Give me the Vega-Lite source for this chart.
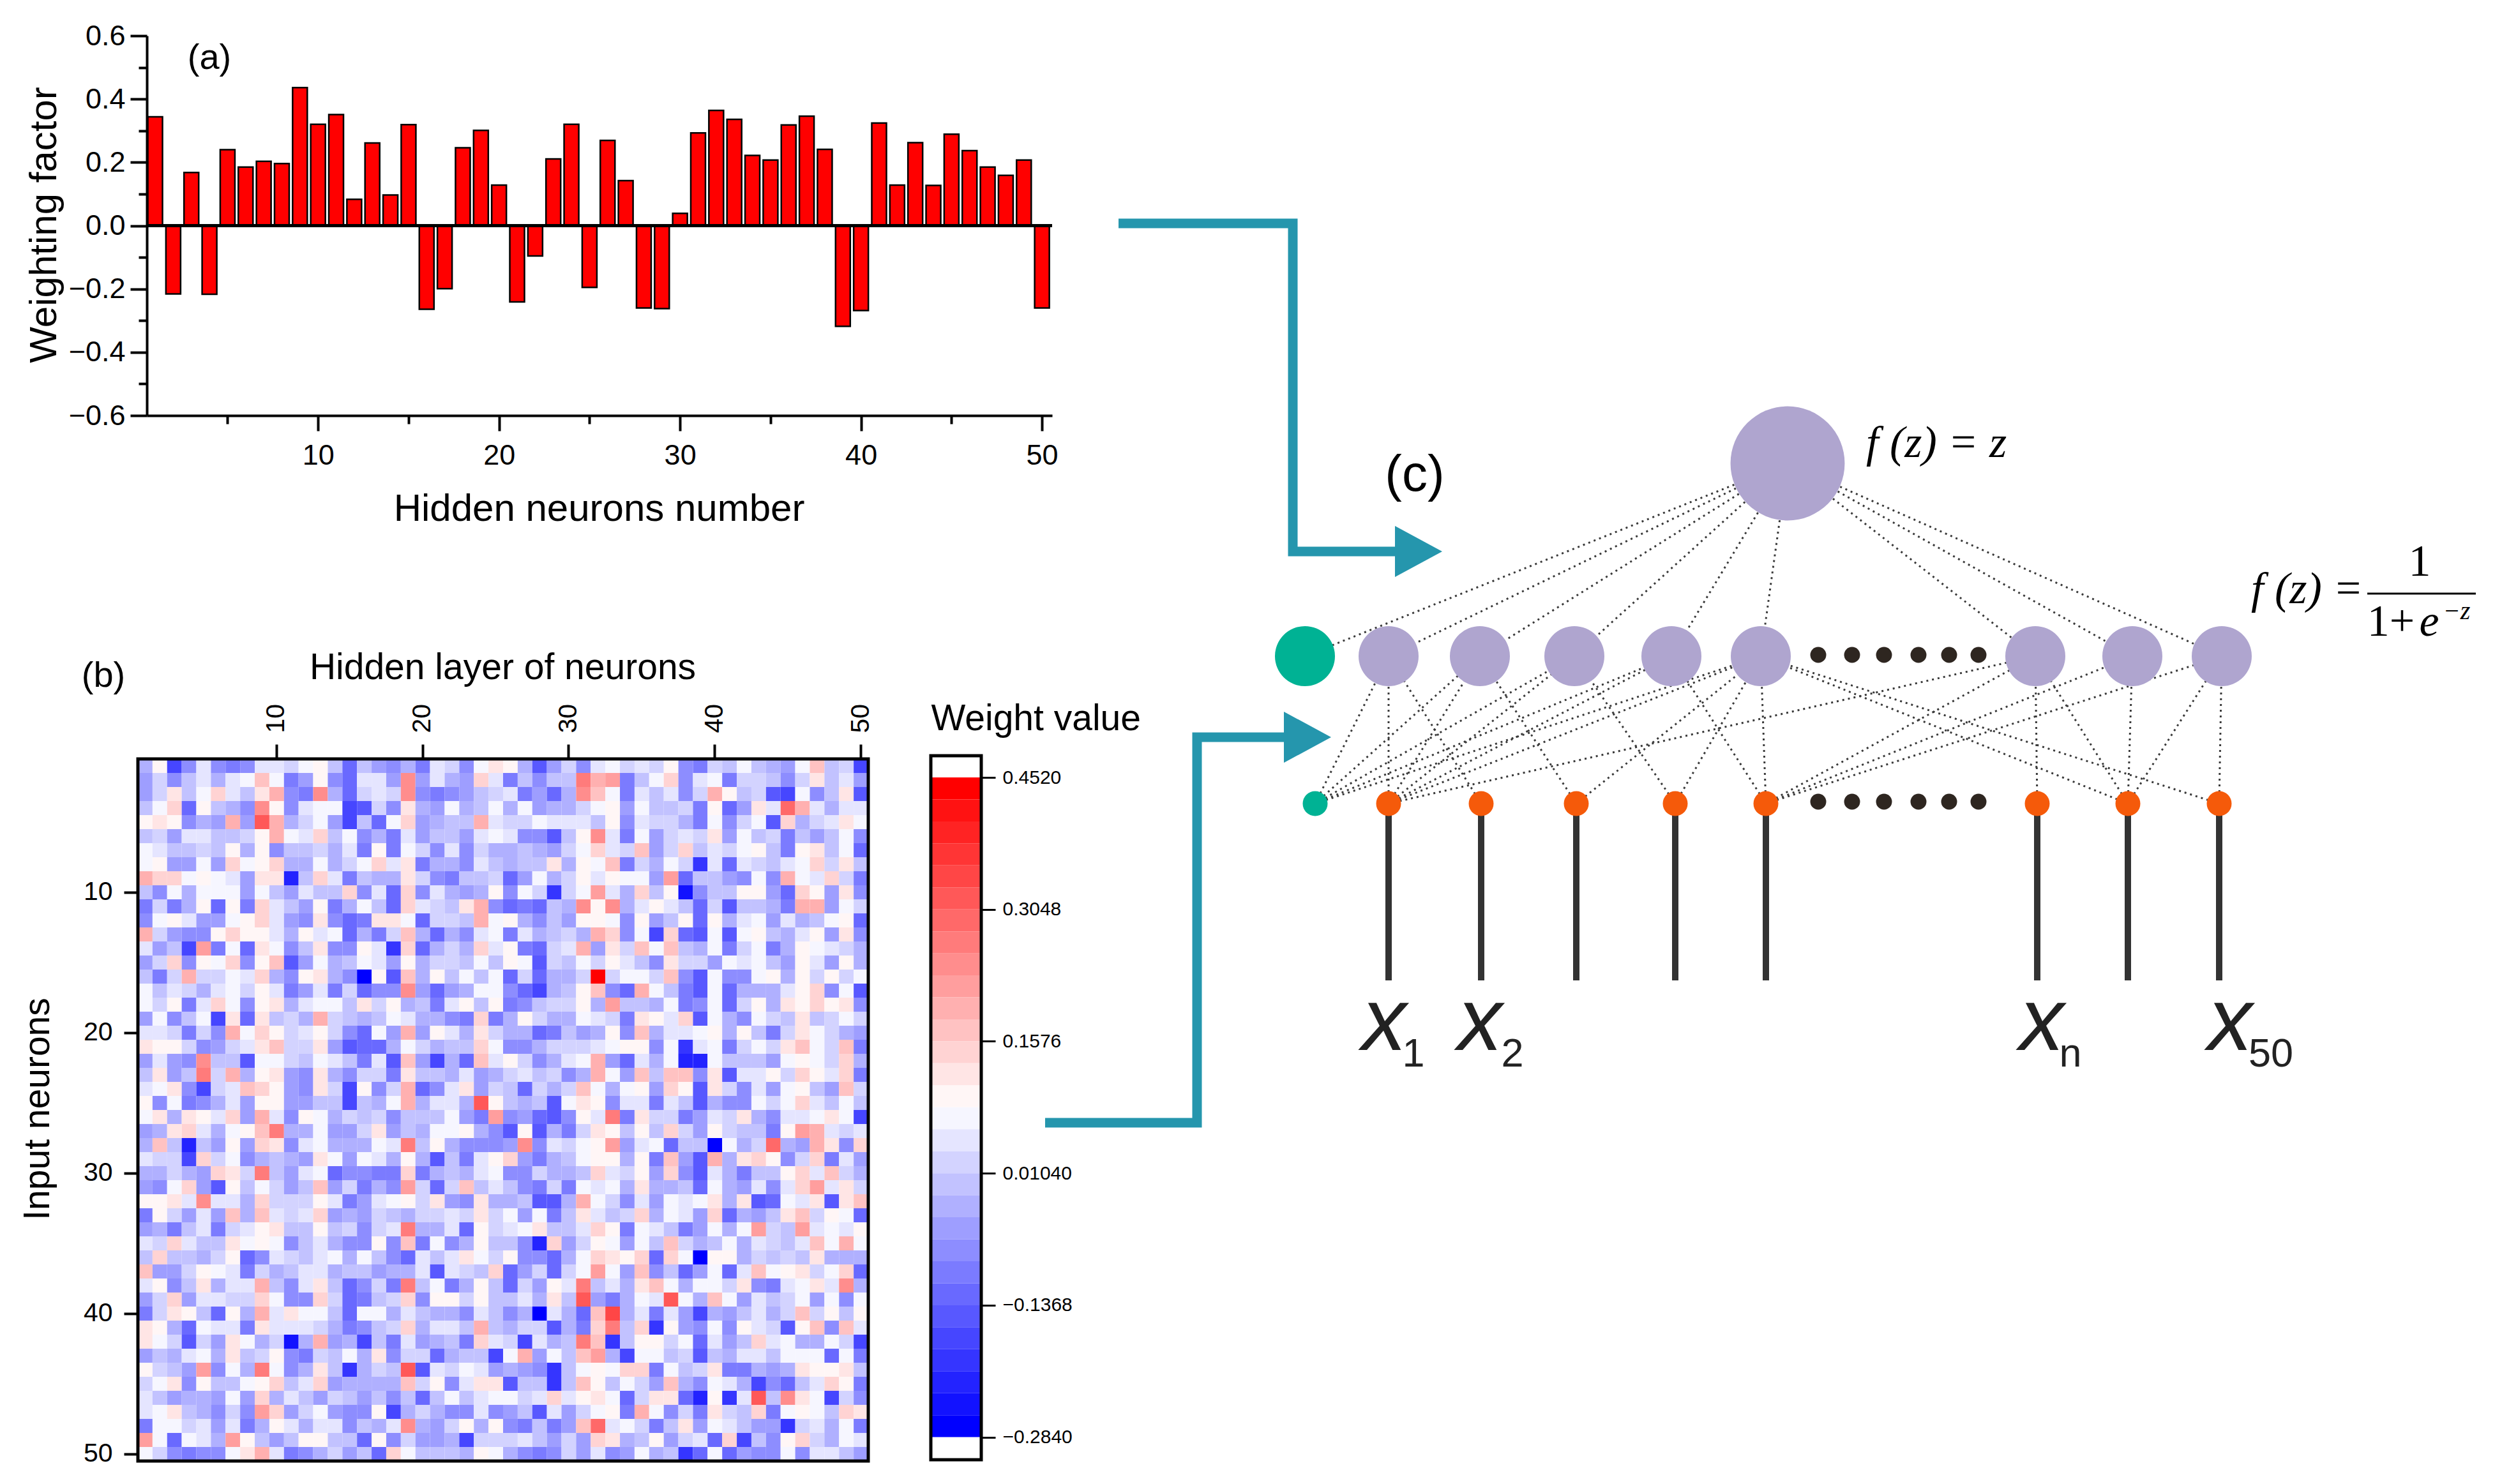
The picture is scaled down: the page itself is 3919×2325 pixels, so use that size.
{"$schema":"https://vega.github.io/schema/vega-lite/v6.json","width":3919,"height":2325,"padding":0,"autosize":{"type":"none"},"background":"white",
"config":{"view":{"stroke":null},"font":"Liberation Sans","axis":{"grid":false,"labelFont":"Liberation Sans","titleFont":"Liberation Sans","titleFontWeight":"normal","labelColor":"#000","titleColor":"#000","tickColor":"#000","domainColor":"#000"}},
"datasets":{
"bars":[{"n":1,"w":0.344},{"n":2,"w":-0.216},{"n":3,"w":0.168},{"n":4,"w":-0.217},{"n":5,"w":0.24},{"n":6,"w":0.185},{"n":7,"w":0.203},{"n":8,"w":0.196},{"n":9,"w":0.436},{"n":10,"w":0.32},{"n":11,"w":0.351},{"n":12,"w":0.083},{"n":13,"w":0.261},{"n":14,"w":0.097},{"n":15,"w":0.319},{"n":16,"w":-0.264},{"n":17,"w":-0.199},{"n":18,"w":0.246},{"n":19,"w":0.301},{"n":20,"w":0.128},{"n":21,"w":-0.241},{"n":22,"w":-0.096},{"n":23,"w":0.211},{"n":24,"w":0.32},{"n":25,"w":-0.195},{"n":26,"w":0.269},{"n":27,"w":0.142},{"n":28,"w":-0.26},{"n":29,"w":-0.262},{"n":30,"w":0.039},{"n":31,"w":0.293},{"n":32,"w":0.364},{"n":33,"w":0.336},{"n":34,"w":0.222},{"n":35,"w":0.207},{"n":36,"w":0.318},{"n":37,"w":0.346},{"n":38,"w":0.241},{"n":39,"w":-0.318},{"n":40,"w":-0.268},{"n":41,"w":0.324},{"n":42,"w":0.128},{"n":43,"w":0.262},{"n":44,"w":0.127},{"n":45,"w":0.289},{"n":46,"w":0.237},{"n":47,"w":0.185},{"n":48,"w":0.159},{"n":49,"w":0.207},{"n":50,"w":-0.26}],
"heat":[
{"r":1,"c":1,"w":-0.03},{"r":1,"c":2,"w":0.1},{"r":1,"c":3,"w":-0.17},{"r":1,"c":4,"w":-0.08},{"r":1,"c":5,"w":0.05},{"r":1,"c":6,"w":-0.08},{"r":1,"c":7,"w":-0.1},{"r":1,"c":8,"w":-0.08},{"r":1,"c":9,"w":0.05},{"r":1,"c":10,"w":0.05},{"r":1,"c":11,"w":0.02},{"r":1,"c":12,"w":0.07},{"r":1,"c":13,"w":0.1},{"r":1,"c":14,"w":0},{"r":1,"c":15,"w":-0.12},{"r":1,"c":16,"w":0},{"r":1,"c":17,"w":-0.05},{"r":1,"c":18,"w":-0.08},{"r":1,"c":19,"w":-0.03},{"r":1,"c":20,"w":-0.1},{"r":1,"c":21,"w":0.05},{"r":1,"c":22,"w":0.02},{"r":1,"c":23,"w":-0.08},{"r":1,"c":24,"w":0.07},{"r":1,"c":25,"w":0.12},{"r":1,"c":26,"w":0.1},{"r":1,"c":27,"w":-0.03},{"r":1,"c":28,"w":-0.15},{"r":1,"c":29,"w":-0.05},{"r":1,"c":30,"w":0.02},{"r":1,"c":31,"w":-0.08},{"r":1,"c":32,"w":0.05},{"r":1,"c":33,"w":0.07},{"r":1,"c":34,"w":0.02},{"r":1,"c":35,"w":0.05},{"r":1,"c":36,"w":0.02},{"r":1,"c":37,"w":0.1},{"r":1,"c":38,"w":-0.08},{"r":1,"c":39,"w":-0.1},{"r":1,"c":40,"w":0.02},{"r":1,"c":41,"w":0},{"r":1,"c":42,"w":0.07},{"r":1,"c":43,"w":0},{"r":1,"c":44,"w":-0.03},{"r":1,"c":45,"w":-0.05},{"r":1,"c":46,"w":0.07},{"r":1,"c":47,"w":0.17},{"r":1,"c":48,"w":0},{"r":1,"c":49,"w":0.02},{"r":1,"c":50,"w":-0.17},
{"r":2,"c":1,"w":-0.05},{"r":2,"c":2,"w":0.02},{"r":2,"c":3,"w":-0.08},{"r":2,"c":4,"w":0},{"r":2,"c":5,"w":0.05},{"r":2,"c":6,"w":-0.03},{"r":2,"c":7,"w":0.05},{"r":2,"c":8,"w":0.07},{"r":2,"c":9,"w":0.17},{"r":2,"c":10,"w":0.07},{"r":2,"c":11,"w":-0.1},{"r":2,"c":12,"w":-0.05},{"r":2,"c":13,"w":0.1},{"r":2,"c":14,"w":-0.08},{"r":2,"c":15,"w":-0.12},{"r":2,"c":16,"w":0.05},{"r":2,"c":17,"w":0.05},{"r":2,"c":18,"w":-0.05},{"r":2,"c":19,"w":0.24},{"r":2,"c":20,"w":-0.05},{"r":2,"c":21,"w":0.05},{"r":2,"c":22,"w":-0.03},{"r":2,"c":23,"w":-0.05},{"r":2,"c":24,"w":0.15},{"r":2,"c":25,"w":0.05},{"r":2,"c":26,"w":-0.1},{"r":2,"c":27,"w":0},{"r":2,"c":28,"w":-0.08},{"r":2,"c":29,"w":0},{"r":2,"c":30,"w":0},{"r":2,"c":31,"w":0.27},{"r":2,"c":32,"w":0.2},{"r":2,"c":33,"w":0.22},{"r":2,"c":34,"w":-0.1},{"r":2,"c":35,"w":0},{"r":2,"c":36,"w":0.07},{"r":2,"c":37,"w":0.15},{"r":2,"c":38,"w":-0.08},{"r":2,"c":39,"w":0.05},{"r":2,"c":40,"w":0.07},{"r":2,"c":41,"w":-0.1},{"r":2,"c":42,"w":0.02},{"r":2,"c":43,"w":0.02},{"r":2,"c":44,"w":0},{"r":2,"c":45,"w":-0.08},{"r":2,"c":46,"w":0.02},{"r":2,"c":47,"w":0.12},{"r":2,"c":48,"w":0},{"r":2,"c":49,"w":0.05},{"r":2,"c":50,"w":-0.05},
{"r":3,"c":1,"w":-0.05},{"r":3,"c":2,"w":0.02},{"r":3,"c":3,"w":0.12},{"r":3,"c":4,"w":0},{"r":3,"c":5,"w":0.07},{"r":3,"c":6,"w":0.15},{"r":3,"c":7,"w":0.05},{"r":3,"c":8,"w":0},{"r":3,"c":9,"w":0.12},{"r":3,"c":10,"w":0.2},{"r":3,"c":11,"w":-0.08},{"r":3,"c":12,"w":-0.1},{"r":3,"c":13,"w":0.24},{"r":3,"c":14,"w":-0.03},{"r":3,"c":15,"w":-0.12},{"r":3,"c":16,"w":0.02},{"r":3,"c":17,"w":0.05},{"r":3,"c":18,"w":0.02},{"r":3,"c":19,"w":0.24},{"r":3,"c":20,"w":-0.08},{"r":3,"c":21,"w":-0.1},{"r":3,"c":22,"w":-0.08},{"r":3,"c":23,"w":-0.05},{"r":3,"c":24,"w":0},{"r":3,"c":25,"w":0.02},{"r":3,"c":26,"w":0.05},{"r":3,"c":27,"w":-0.1},{"r":3,"c":28,"w":-0.05},{"r":3,"c":29,"w":-0.12},{"r":3,"c":30,"w":-0.03},{"r":3,"c":31,"w":0.24},{"r":3,"c":32,"w":0.17},{"r":3,"c":33,"w":0.07},{"r":3,"c":34,"w":-0.1},{"r":3,"c":35,"w":0.05},{"r":3,"c":36,"w":0},{"r":3,"c":37,"w":0.05},{"r":3,"c":38,"w":-0.08},{"r":3,"c":39,"w":0.02},{"r":3,"c":40,"w":0.2},{"r":3,"c":41,"w":0.1},{"r":3,"c":42,"w":0},{"r":3,"c":43,"w":0.02},{"r":3,"c":44,"w":-0.15},{"r":3,"c":45,"w":-0.17},{"r":3,"c":46,"w":0.07},{"r":3,"c":47,"w":-0.08},{"r":3,"c":48,"w":0},{"r":3,"c":49,"w":0.12},{"r":3,"c":50,"w":-0.15},
{"r":4,"c":1,"w":0},{"r":4,"c":2,"w":0.07},{"r":4,"c":3,"w":0.15},{"r":4,"c":4,"w":-0.12},{"r":4,"c":5,"w":0.1},{"r":4,"c":6,"w":0},{"r":4,"c":7,"w":-0.03},{"r":4,"c":8,"w":-0.08},{"r":4,"c":9,"w":0.24},{"r":4,"c":10,"w":0.1},{"r":4,"c":11,"w":-0.08},{"r":4,"c":12,"w":0.05},{"r":4,"c":13,"w":0.07},{"r":4,"c":14,"w":0.07},{"r":4,"c":15,"w":-0.17},{"r":4,"c":16,"w":-0.15},{"r":4,"c":17,"w":0.02},{"r":4,"c":18,"w":-0.08},{"r":4,"c":19,"w":0.12},{"r":4,"c":20,"w":-0.03},{"r":4,"c":21,"w":-0.05},{"r":4,"c":22,"w":0.07},{"r":4,"c":23,"w":-0.03},{"r":4,"c":24,"w":0},{"r":4,"c":25,"w":0.07},{"r":4,"c":26,"w":-0.03},{"r":4,"c":27,"w":0.07},{"r":4,"c":28,"w":-0.05},{"r":4,"c":29,"w":-0.03},{"r":4,"c":30,"w":-0.03},{"r":4,"c":31,"w":0.02},{"r":4,"c":32,"w":0.07},{"r":4,"c":33,"w":0.1},{"r":4,"c":34,"w":-0.05},{"r":4,"c":35,"w":0.07},{"r":4,"c":36,"w":0},{"r":4,"c":37,"w":0},{"r":4,"c":38,"w":0.02},{"r":4,"c":39,"w":-0.1},{"r":4,"c":40,"w":0.1},{"r":4,"c":41,"w":-0.12},{"r":4,"c":42,"w":-0.05},{"r":4,"c":43,"w":0.12},{"r":4,"c":44,"w":0.05},{"r":4,"c":45,"w":0.29},{"r":4,"c":46,"w":0.2},{"r":4,"c":47,"w":0.05},{"r":4,"c":48,"w":-0.03},{"r":4,"c":49,"w":0.05},{"r":4,"c":50,"w":0.05},
{"r":5,"c":1,"w":0.1},{"r":5,"c":2,"w":0.12},{"r":5,"c":3,"w":0.1},{"r":5,"c":4,"w":-0.08},{"r":5,"c":5,"w":-0.03},{"r":5,"c":6,"w":-0.05},{"r":5,"c":7,"w":0.2},{"r":5,"c":8,"w":-0.05},{"r":5,"c":9,"w":0.32},{"r":5,"c":10,"w":0.2},{"r":5,"c":11,"w":-0.03},{"r":5,"c":12,"w":0.02},{"r":5,"c":13,"w":0.07},{"r":5,"c":14,"w":-0.05},{"r":5,"c":15,"w":-0.17},{"r":5,"c":16,"w":0},{"r":5,"c":17,"w":-0.12},{"r":5,"c":18,"w":0.07},{"r":5,"c":19,"w":0.15},{"r":5,"c":20,"w":-0.05},{"r":5,"c":21,"w":-0.03},{"r":5,"c":22,"w":0},{"r":5,"c":23,"w":0},{"r":5,"c":24,"w":0.2},{"r":5,"c":25,"w":0.05},{"r":5,"c":26,"w":0.02},{"r":5,"c":27,"w":0.02},{"r":5,"c":28,"w":0.07},{"r":5,"c":29,"w":0.05},{"r":5,"c":30,"w":0.05},{"r":5,"c":31,"w":0.05},{"r":5,"c":32,"w":0},{"r":5,"c":33,"w":0.1},{"r":5,"c":34,"w":-0.08},{"r":5,"c":35,"w":0.05},{"r":5,"c":36,"w":0.02},{"r":5,"c":37,"w":0.02},{"r":5,"c":38,"w":-0.03},{"r":5,"c":39,"w":-0.1},{"r":5,"c":40,"w":0.07},{"r":5,"c":41,"w":-0.08},{"r":5,"c":42,"w":0.02},{"r":5,"c":43,"w":0.07},{"r":5,"c":44,"w":-0.15},{"r":5,"c":45,"w":0.15},{"r":5,"c":46,"w":-0.03},{"r":5,"c":47,"w":0.02},{"r":5,"c":48,"w":0.05},{"r":5,"c":49,"w":0.12},{"r":5,"c":50,"w":0.07},
{"r":6,"c":1,"w":0},{"r":6,"c":2,"w":0.02},{"r":6,"c":3,"w":-0.05},{"r":6,"c":4,"w":0.05},{"r":6,"c":5,"w":0.05},{"r":6,"c":6,"w":0},{"r":6,"c":7,"w":0},{"r":6,"c":8,"w":0.02},{"r":6,"c":9,"w":0.1},{"r":6,"c":10,"w":0.2},{"r":6,"c":11,"w":0.07},{"r":6,"c":12,"w":0.05},{"r":6,"c":13,"w":0.15},{"r":6,"c":14,"w":0},{"r":6,"c":15,"w":0.07},{"r":6,"c":16,"w":-0.08},{"r":6,"c":17,"w":-0.03},{"r":6,"c":18,"w":-0.1},{"r":6,"c":19,"w":0.05},{"r":6,"c":20,"w":-0.05},{"r":6,"c":21,"w":0},{"r":6,"c":22,"w":0},{"r":6,"c":23,"w":-0.05},{"r":6,"c":24,"w":0.05},{"r":6,"c":25,"w":0.07},{"r":6,"c":26,"w":0.05},{"r":6,"c":27,"w":-0.08},{"r":6,"c":28,"w":-0.08},{"r":6,"c":29,"w":-0.15},{"r":6,"c":30,"w":0},{"r":6,"c":31,"w":0.1},{"r":6,"c":32,"w":0.24},{"r":6,"c":33,"w":0.05},{"r":6,"c":34,"w":-0.1},{"r":6,"c":35,"w":0.07},{"r":6,"c":36,"w":-0.05},{"r":6,"c":37,"w":0.02},{"r":6,"c":38,"w":0.05},{"r":6,"c":39,"w":0.02},{"r":6,"c":40,"w":0.12},{"r":6,"c":41,"w":-0.05},{"r":6,"c":42,"w":0.07},{"r":6,"c":43,"w":0},{"r":6,"c":44,"w":0.02},{"r":6,"c":45,"w":-0.1},{"r":6,"c":46,"w":0},{"r":6,"c":47,"w":-0.05},{"r":6,"c":48,"w":0},{"r":6,"c":49,"w":0.07},{"r":6,"c":50,"w":-0.08},
{"r":7,"c":1,"w":0.07},{"r":7,"c":2,"w":0.05},{"r":7,"c":3,"w":0},{"r":7,"c":4,"w":0},{"r":7,"c":5,"w":0.02},{"r":7,"c":6,"w":0},{"r":7,"c":7,"w":0.1},{"r":7,"c":8,"w":-0.03},{"r":7,"c":9,"w":0.1},{"r":7,"c":10,"w":-0.08},{"r":7,"c":11,"w":0},{"r":7,"c":12,"w":0},{"r":7,"c":13,"w":0.02},{"r":7,"c":14,"w":-0.03},{"r":7,"c":15,"w":0.05},{"r":7,"c":16,"w":-0.1},{"r":7,"c":17,"w":0.1},{"r":7,"c":18,"w":-0.1},{"r":7,"c":19,"w":0.07},{"r":7,"c":20,"w":0.02},{"r":7,"c":21,"w":-0.08},{"r":7,"c":22,"w":0.05},{"r":7,"c":23,"w":-0.08},{"r":7,"c":24,"w":0.02},{"r":7,"c":25,"w":-0.03},{"r":7,"c":26,"w":-0.03},{"r":7,"c":27,"w":0},{"r":7,"c":28,"w":-0.03},{"r":7,"c":29,"w":-0.05},{"r":7,"c":30,"w":0.02},{"r":7,"c":31,"w":0.07},{"r":7,"c":32,"w":0.15},{"r":7,"c":33,"w":0.05},{"r":7,"c":34,"w":0.02},{"r":7,"c":35,"w":0.17},{"r":7,"c":36,"w":-0.05},{"r":7,"c":37,"w":0.02},{"r":7,"c":38,"w":0.15},{"r":7,"c":39,"w":0},{"r":7,"c":40,"w":0.05},{"r":7,"c":41,"w":0.02},{"r":7,"c":42,"w":0.07},{"r":7,"c":43,"w":0.1},{"r":7,"c":44,"w":0},{"r":7,"c":45,"w":-0.1},{"r":7,"c":46,"w":0.1},{"r":7,"c":47,"w":0.12},{"r":7,"c":48,"w":0},{"r":7,"c":49,"w":0.07},{"r":7,"c":50,"w":-0.12},
{"r":8,"c":1,"w":0.07},{"r":8,"c":2,"w":0.1},{"r":8,"c":3,"w":-0.05},{"r":8,"c":4,"w":-0.05},{"r":8,"c":5,"w":0.07},{"r":8,"c":6,"w":-0.05},{"r":8,"c":7,"w":0.15},{"r":8,"c":8,"w":0.07},{"r":8,"c":9,"w":0.1},{"r":8,"c":10,"w":0.15},{"r":8,"c":11,"w":-0.03},{"r":8,"c":12,"w":-0.03},{"r":8,"c":13,"w":0.07},{"r":8,"c":14,"w":-0.03},{"r":8,"c":15,"w":0.02},{"r":8,"c":16,"w":0.07},{"r":8,"c":17,"w":0.15},{"r":8,"c":18,"w":0.05},{"r":8,"c":19,"w":0.12},{"r":8,"c":20,"w":-0.1},{"r":8,"c":21,"w":-0.03},{"r":8,"c":22,"w":-0.03},{"r":8,"c":23,"w":-0.08},{"r":8,"c":24,"w":0.05},{"r":8,"c":25,"w":0},{"r":8,"c":26,"w":-0.03},{"r":8,"c":27,"w":0},{"r":8,"c":28,"w":0},{"r":8,"c":29,"w":0.12},{"r":8,"c":30,"w":-0.03},{"r":8,"c":31,"w":0.1},{"r":8,"c":32,"w":0.07},{"r":8,"c":33,"w":0.17},{"r":8,"c":34,"w":-0.1},{"r":8,"c":35,"w":0.02},{"r":8,"c":36,"w":-0.03},{"r":8,"c":37,"w":0.07},{"r":8,"c":38,"w":0.02},{"r":8,"c":39,"w":-0.2},{"r":8,"c":40,"w":0.05},{"r":8,"c":41,"w":-0.12},{"r":8,"c":42,"w":0.05},{"r":8,"c":43,"w":0.02},{"r":8,"c":44,"w":0},{"r":8,"c":45,"w":0.05},{"r":8,"c":46,"w":0.07},{"r":8,"c":47,"w":0.15},{"r":8,"c":48,"w":0.02},{"r":8,"c":49,"w":0.12},{"r":8,"c":50,"w":0},
{"r":9,"c":1,"w":0.2},{"r":9,"c":2,"w":0.15},{"r":9,"c":3,"w":0.15},{"r":9,"c":4,"w":0.07},{"r":9,"c":5,"w":0.1},{"r":9,"c":6,"w":0.07},{"r":9,"c":7,"w":0.05},{"r":9,"c":8,"w":-0.05},{"r":9,"c":9,"w":0.12},{"r":9,"c":10,"w":0.12},{"r":9,"c":11,"w":-0.22},{"r":9,"c":12,"w":0},{"r":9,"c":13,"w":0.15},{"r":9,"c":14,"w":0.05},{"r":9,"c":15,"w":-0.1},{"r":9,"c":16,"w":0},{"r":9,"c":17,"w":-0.03},{"r":9,"c":18,"w":-0.03},{"r":9,"c":19,"w":0.12},{"r":9,"c":20,"w":0.02},{"r":9,"c":21,"w":-0.08},{"r":9,"c":22,"w":-0.1},{"r":9,"c":23,"w":0},{"r":9,"c":24,"w":0},{"r":9,"c":25,"w":0.02},{"r":9,"c":26,"w":-0.12},{"r":9,"c":27,"w":-0.05},{"r":9,"c":28,"w":0.07},{"r":9,"c":29,"w":-0.03},{"r":9,"c":30,"w":0.02},{"r":9,"c":31,"w":0.1},{"r":9,"c":32,"w":0.05},{"r":9,"c":33,"w":0.1},{"r":9,"c":34,"w":0.07},{"r":9,"c":35,"w":0.07},{"r":9,"c":36,"w":-0.05},{"r":9,"c":37,"w":0.22},{"r":9,"c":38,"w":-0.12},{"r":9,"c":39,"w":0},{"r":9,"c":40,"w":0},{"r":9,"c":41,"w":-0.05},{"r":9,"c":42,"w":-0.08},{"r":9,"c":43,"w":0.07},{"r":9,"c":44,"w":-0.08},{"r":9,"c":45,"w":0.2},{"r":9,"c":46,"w":0.07},{"r":9,"c":47,"w":0.05},{"r":9,"c":48,"w":0.15},{"r":9,"c":49,"w":0.02},{"r":9,"c":50,"w":-0.1},
{"r":10,"c":1,"w":0},{"r":10,"c":2,"w":-0.08},{"r":10,"c":3,"w":0.07},{"r":10,"c":4,"w":-0.03},{"r":10,"c":5,"w":0.07},{"r":10,"c":6,"w":0.07},{"r":10,"c":7,"w":0.07},{"r":10,"c":8,"w":-0.05},{"r":10,"c":9,"w":0.07},{"r":10,"c":10,"w":0},{"r":10,"c":11,"w":-0.05},{"r":10,"c":12,"w":0.05},{"r":10,"c":13,"w":0},{"r":10,"c":14,"w":0},{"r":10,"c":15,"w":0.15},{"r":10,"c":16,"w":-0.08},{"r":10,"c":17,"w":0.05},{"r":10,"c":18,"w":-0.12},{"r":10,"c":19,"w":0.15},{"r":10,"c":20,"w":-0.08},{"r":10,"c":21,"w":0.05},{"r":10,"c":22,"w":-0.03},{"r":10,"c":23,"w":-0.05},{"r":10,"c":24,"w":-0.03},{"r":10,"c":25,"w":0.1},{"r":10,"c":26,"w":-0.08},{"r":10,"c":27,"w":0.07},{"r":10,"c":28,"w":0.02},{"r":10,"c":29,"w":-0.2},{"r":10,"c":30,"w":0.02},{"r":10,"c":31,"w":0.07},{"r":10,"c":32,"w":0.22},{"r":10,"c":33,"w":0.05},{"r":10,"c":34,"w":-0.03},{"r":10,"c":35,"w":0.15},{"r":10,"c":36,"w":0},{"r":10,"c":37,"w":0.1},{"r":10,"c":38,"w":-0.25},{"r":10,"c":39,"w":-0.08},{"r":10,"c":40,"w":0},{"r":10,"c":41,"w":0},{"r":10,"c":42,"w":0.1},{"r":10,"c":43,"w":0.1},{"r":10,"c":44,"w":-0.05},{"r":10,"c":45,"w":-0.12},{"r":10,"c":46,"w":0.15},{"r":10,"c":47,"w":0.1},{"r":10,"c":48,"w":-0.05},{"r":10,"c":49,"w":0.12},{"r":10,"c":50,"w":-0.08},
{"r":11,"c":1,"w":-0.1},{"r":11,"c":2,"w":0.02},{"r":11,"c":3,"w":-0.1},{"r":11,"c":4,"w":-0.03},{"r":11,"c":5,"w":0.1},{"r":11,"c":6,"w":-0.12},{"r":11,"c":7,"w":0.1},{"r":11,"c":8,"w":-0.1},{"r":11,"c":9,"w":0.15},{"r":11,"c":10,"w":0.05},{"r":11,"c":11,"w":0},{"r":11,"c":12,"w":-0.05},{"r":11,"c":13,"w":0.1},{"r":11,"c":14,"w":-0.1},{"r":11,"c":15,"w":-0.03},{"r":11,"c":16,"w":0.07},{"r":11,"c":17,"w":0},{"r":11,"c":18,"w":-0.12},{"r":11,"c":19,"w":0.15},{"r":11,"c":20,"w":0.05},{"r":11,"c":21,"w":0.02},{"r":11,"c":22,"w":0},{"r":11,"c":23,"w":0.12},{"r":11,"c":24,"w":0.2},{"r":11,"c":25,"w":-0.08},{"r":11,"c":26,"w":-0.12},{"r":11,"c":27,"w":-0.1},{"r":11,"c":28,"w":-0.12},{"r":11,"c":29,"w":0},{"r":11,"c":30,"w":-0.03},{"r":11,"c":31,"w":0.24},{"r":11,"c":32,"w":0.1},{"r":11,"c":33,"w":0.24},{"r":11,"c":34,"w":-0.03},{"r":11,"c":35,"w":0.05},{"r":11,"c":36,"w":0.1},{"r":11,"c":37,"w":0.05},{"r":11,"c":38,"w":0},{"r":11,"c":39,"w":-0.12},{"r":11,"c":40,"w":0.02},{"r":11,"c":41,"w":-0.15},{"r":11,"c":42,"w":0},{"r":11,"c":43,"w":0},{"r":11,"c":44,"w":-0.03},{"r":11,"c":45,"w":-0.1},{"r":11,"c":46,"w":0.2},{"r":11,"c":47,"w":0.2},{"r":11,"c":48,"w":-0.05},{"r":11,"c":49,"w":0.07},{"r":11,"c":50,"w":0.02},
{"r":12,"c":1,"w":-0.08},{"r":12,"c":2,"w":0.07},{"r":12,"c":3,"w":0.1},{"r":12,"c":4,"w":0.05},{"r":12,"c":5,"w":-0.05},{"r":12,"c":6,"w":-0.05},{"r":12,"c":7,"w":0.07},{"r":12,"c":8,"w":0.1},{"r":12,"c":9,"w":0.15},{"r":12,"c":10,"w":0.05},{"r":12,"c":11,"w":-0.05},{"r":12,"c":12,"w":-0.08},{"r":12,"c":13,"w":0.12},{"r":12,"c":14,"w":-0.08},{"r":12,"c":15,"w":-0.12},{"r":12,"c":16,"w":-0.1},{"r":12,"c":17,"w":0.12},{"r":12,"c":18,"w":0.12},{"r":12,"c":19,"w":0.07},{"r":12,"c":20,"w":-0.12},{"r":12,"c":21,"w":0.02},{"r":12,"c":22,"w":0.02},{"r":12,"c":23,"w":0},{"r":12,"c":24,"w":0.2},{"r":12,"c":25,"w":0.07},{"r":12,"c":26,"w":0.1},{"r":12,"c":27,"w":-0.03},{"r":12,"c":28,"w":-0.08},{"r":12,"c":29,"w":0},{"r":12,"c":30,"w":-0.05},{"r":12,"c":31,"w":0.1},{"r":12,"c":32,"w":0.1},{"r":12,"c":33,"w":0.07},{"r":12,"c":34,"w":-0.08},{"r":12,"c":35,"w":0.1},{"r":12,"c":36,"w":-0.05},{"r":12,"c":37,"w":0},{"r":12,"c":38,"w":0.1},{"r":12,"c":39,"w":-0.12},{"r":12,"c":40,"w":0.1},{"r":12,"c":41,"w":-0.03},{"r":12,"c":42,"w":0.05},{"r":12,"c":43,"w":0.07},{"r":12,"c":44,"w":-0.05},{"r":12,"c":45,"w":0.05},{"r":12,"c":46,"w":-0.03},{"r":12,"c":47,"w":0},{"r":12,"c":48,"w":0.07},{"r":12,"c":49,"w":0.1},{"r":12,"c":50,"w":-0.12},
{"r":13,"c":1,"w":0.2},{"r":13,"c":2,"w":0.02},{"r":13,"c":3,"w":-0.05},{"r":13,"c":4,"w":-0.08},{"r":13,"c":5,"w":-0.08},{"r":13,"c":6,"w":0.1},{"r":13,"c":7,"w":0.15},{"r":13,"c":8,"w":0.1},{"r":13,"c":9,"w":0.1},{"r":13,"c":10,"w":0.05},{"r":13,"c":11,"w":-0.03},{"r":13,"c":12,"w":0.1},{"r":13,"c":13,"w":0.05},{"r":13,"c":14,"w":0.07},{"r":13,"c":15,"w":-0.12},{"r":13,"c":16,"w":-0.03},{"r":13,"c":17,"w":-0.1},{"r":13,"c":18,"w":0.02},{"r":13,"c":19,"w":0.17},{"r":13,"c":20,"w":-0.03},{"r":13,"c":21,"w":-0.12},{"r":13,"c":22,"w":-0.03},{"r":13,"c":23,"w":-0.08},{"r":13,"c":24,"w":0.05},{"r":13,"c":25,"w":0.07},{"r":13,"c":26,"w":-0.1},{"r":13,"c":27,"w":0.05},{"r":13,"c":28,"w":-0.03},{"r":13,"c":29,"w":0},{"r":13,"c":30,"w":0.02},{"r":13,"c":31,"w":-0.03},{"r":13,"c":32,"w":0.2},{"r":13,"c":33,"w":0.15},{"r":13,"c":34,"w":-0.08},{"r":13,"c":35,"w":0.07},{"r":13,"c":36,"w":-0.17},{"r":13,"c":37,"w":0.15},{"r":13,"c":38,"w":-0.12},{"r":13,"c":39,"w":-0.15},{"r":13,"c":40,"w":0.07},{"r":13,"c":41,"w":-0.15},{"r":13,"c":42,"w":0.07},{"r":13,"c":43,"w":0.1},{"r":13,"c":44,"w":0},{"r":13,"c":45,"w":-0.03},{"r":13,"c":46,"w":0.05},{"r":13,"c":47,"w":0.1},{"r":13,"c":48,"w":-0.05},{"r":13,"c":49,"w":0.12},{"r":13,"c":50,"w":-0.08},
{"r":14,"c":1,"w":0.05},{"r":14,"c":2,"w":-0.05},{"r":14,"c":3,"w":0},{"r":14,"c":4,"w":-0.17},{"r":14,"c":5,"w":0.22},{"r":14,"c":6,"w":-0.1},{"r":14,"c":7,"w":0.07},{"r":14,"c":8,"w":-0.12},{"r":14,"c":9,"w":0.12},{"r":14,"c":10,"w":0.07},{"r":14,"c":11,"w":-0.08},{"r":14,"c":12,"w":0},{"r":14,"c":13,"w":0.12},{"r":14,"c":14,"w":-0.08},{"r":14,"c":15,"w":-0.08},{"r":14,"c":16,"w":0.1},{"r":14,"c":17,"w":0.05},{"r":14,"c":18,"w":-0.2},{"r":14,"c":19,"w":0.15},{"r":14,"c":20,"w":-0.12},{"r":14,"c":21,"w":-0.03},{"r":14,"c":22,"w":0.02},{"r":14,"c":23,"w":-0.03},{"r":14,"c":24,"w":0.15},{"r":14,"c":25,"w":0.05},{"r":14,"c":26,"w":0.1},{"r":14,"c":27,"w":-0.1},{"r":14,"c":28,"w":-0.12},{"r":14,"c":29,"w":0.02},{"r":14,"c":30,"w":0.05},{"r":14,"c":31,"w":0.2},{"r":14,"c":32,"w":-0.05},{"r":14,"c":33,"w":0.12},{"r":14,"c":34,"w":0.02},{"r":14,"c":35,"w":0.17},{"r":14,"c":36,"w":0.07},{"r":14,"c":37,"w":0.17},{"r":14,"c":38,"w":0},{"r":14,"c":39,"w":-0.03},{"r":14,"c":40,"w":0.07},{"r":14,"c":41,"w":-0.1},{"r":14,"c":42,"w":0.02},{"r":14,"c":43,"w":0.07},{"r":14,"c":44,"w":-0.1},{"r":14,"c":45,"w":-0.03},{"r":14,"c":46,"w":0.1},{"r":14,"c":47,"w":0.07},{"r":14,"c":48,"w":0.05},{"r":14,"c":49,"w":0.02},{"r":14,"c":50,"w":-0.03},
{"r":15,"c":1,"w":-0.05},{"r":15,"c":2,"w":0.02},{"r":15,"c":3,"w":0.15},{"r":15,"c":4,"w":-0.08},{"r":15,"c":5,"w":0.1},{"r":15,"c":6,"w":0.07},{"r":15,"c":7,"w":0.15},{"r":15,"c":8,"w":-0.08},{"r":15,"c":9,"w":0.1},{"r":15,"c":10,"w":0.17},{"r":15,"c":11,"w":-0.15},{"r":15,"c":12,"w":-0.05},{"r":15,"c":13,"w":0.07},{"r":15,"c":14,"w":-0.03},{"r":15,"c":15,"w":0},{"r":15,"c":16,"w":0.07},{"r":15,"c":17,"w":0.05},{"r":15,"c":18,"w":-0.05},{"r":15,"c":19,"w":0.1},{"r":15,"c":20,"w":-0.03},{"r":15,"c":21,"w":0.02},{"r":15,"c":22,"w":0.02},{"r":15,"c":23,"w":0},{"r":15,"c":24,"w":0.07},{"r":15,"c":25,"w":0},{"r":15,"c":26,"w":0.1},{"r":15,"c":27,"w":0.07},{"r":15,"c":28,"w":-0.15},{"r":15,"c":29,"w":0.02},{"r":15,"c":30,"w":0},{"r":15,"c":31,"w":0.07},{"r":15,"c":32,"w":0.02},{"r":15,"c":33,"w":0.1},{"r":15,"c":34,"w":0.05},{"r":15,"c":35,"w":0},{"r":15,"c":36,"w":-0.08},{"r":15,"c":37,"w":0.12},{"r":15,"c":38,"w":0.02},{"r":15,"c":39,"w":0.02},{"r":15,"c":40,"w":-0.05},{"r":15,"c":41,"w":0.07},{"r":15,"c":42,"w":0.05},{"r":15,"c":43,"w":0.07},{"r":15,"c":44,"w":0},{"r":15,"c":45,"w":-0.05},{"r":15,"c":46,"w":0.1},{"r":15,"c":47,"w":0.05},{"r":15,"c":48,"w":-0.05},{"r":15,"c":49,"w":0.1},{"r":15,"c":50,"w":-0.03},
{"r":16,"c":1,"w":0},{"r":16,"c":2,"w":-0.1},{"r":16,"c":3,"w":0.02},{"r":16,"c":4,"w":0.2},{"r":16,"c":5,"w":0.02},{"r":16,"c":6,"w":0.02},{"r":16,"c":7,"w":0.07},{"r":16,"c":8,"w":0.05},{"r":16,"c":9,"w":0.15},{"r":16,"c":10,"w":-0.03},{"r":16,"c":11,"w":-0.08},{"r":16,"c":12,"w":0.1},{"r":16,"c":13,"w":0.12},{"r":16,"c":14,"w":-0.03},{"r":16,"c":15,"w":-0.08},{"r":16,"c":16,"w":-0.27},{"r":16,"c":17,"w":0.1},{"r":16,"c":18,"w":-0.15},{"r":16,"c":19,"w":0.17},{"r":16,"c":20,"w":-0.03},{"r":16,"c":21,"w":0.1},{"r":16,"c":22,"w":0},{"r":16,"c":23,"w":0.07},{"r":16,"c":24,"w":0},{"r":16,"c":25,"w":0.07},{"r":16,"c":26,"w":-0.12},{"r":16,"c":27,"w":0.02},{"r":16,"c":28,"w":-0.12},{"r":16,"c":29,"w":-0.03},{"r":16,"c":30,"w":-0.03},{"r":16,"c":31,"w":0.02},{"r":16,"c":32,"w":0.44},{"r":16,"c":33,"w":0.02},{"r":16,"c":34,"w":0.07},{"r":16,"c":35,"w":0.07},{"r":16,"c":36,"w":0.02},{"r":16,"c":37,"w":0.17},{"r":16,"c":38,"w":-0.08},{"r":16,"c":39,"w":-0.15},{"r":16,"c":40,"w":0.07},{"r":16,"c":41,"w":-0.08},{"r":16,"c":42,"w":-0.08},{"r":16,"c":43,"w":0.07},{"r":16,"c":44,"w":0.1},{"r":16,"c":45,"w":-0.03},{"r":16,"c":46,"w":0.1},{"r":16,"c":47,"w":0.02},{"r":16,"c":48,"w":0.1},{"r":16,"c":49,"w":0.02},{"r":16,"c":50,"w":0.07},
{"r":17,"c":1,"w":0.07},{"r":17,"c":2,"w":0},{"r":17,"c":3,"w":0.05},{"r":17,"c":4,"w":0.02},{"r":17,"c":5,"w":-0.03},{"r":17,"c":6,"w":0.05},{"r":17,"c":7,"w":0.07},{"r":17,"c":8,"w":0.02},{"r":17,"c":9,"w":0.1},{"r":17,"c":10,"w":0.05},{"r":17,"c":11,"w":-0.1},{"r":17,"c":12,"w":-0.05},{"r":17,"c":13,"w":0.05},{"r":17,"c":14,"w":-0.1},{"r":17,"c":15,"w":0.02},{"r":17,"c":16,"w":-0.12},{"r":17,"c":17,"w":-0.08},{"r":17,"c":18,"w":-0.08},{"r":17,"c":19,"w":0.24},{"r":17,"c":20,"w":-0.05},{"r":17,"c":21,"w":-0.12},{"r":17,"c":22,"w":-0.05},{"r":17,"c":23,"w":-0.03},{"r":17,"c":24,"w":0.07},{"r":17,"c":25,"w":0.07},{"r":17,"c":26,"w":-0.08},{"r":17,"c":27,"w":-0.12},{"r":17,"c":28,"w":-0.17},{"r":17,"c":29,"w":-0.03},{"r":17,"c":30,"w":0},{"r":17,"c":31,"w":0.1},{"r":17,"c":32,"w":0.17},{"r":17,"c":33,"w":-0.08},{"r":17,"c":34,"w":-0.12},{"r":17,"c":35,"w":0.2},{"r":17,"c":36,"w":0.07},{"r":17,"c":37,"w":0},{"r":17,"c":38,"w":-0.1},{"r":17,"c":39,"w":-0.15},{"r":17,"c":40,"w":0.07},{"r":17,"c":41,"w":-0.12},{"r":17,"c":42,"w":-0.03},{"r":17,"c":43,"w":-0.03},{"r":17,"c":44,"w":-0.03},{"r":17,"c":45,"w":0.05},{"r":17,"c":46,"w":0.1},{"r":17,"c":47,"w":0.15},{"r":17,"c":48,"w":-0.08},{"r":17,"c":49,"w":0.07},{"r":17,"c":50,"w":-0.15},
{"r":18,"c":1,"w":0.07},{"r":18,"c":2,"w":0.02},{"r":18,"c":3,"w":0.1},{"r":18,"c":4,"w":-0.1},{"r":18,"c":5,"w":0.05},{"r":18,"c":6,"w":0.15},{"r":18,"c":7,"w":0.07},{"r":18,"c":8,"w":-0.08},{"r":18,"c":9,"w":0.1},{"r":18,"c":10,"w":0.12},{"r":18,"c":11,"w":-0.03},{"r":18,"c":12,"w":0.05},{"r":18,"c":13,"w":0.07},{"r":18,"c":14,"w":0.07},{"r":18,"c":15,"w":0},{"r":18,"c":16,"w":0.12},{"r":18,"c":17,"w":0.02},{"r":18,"c":18,"w":0.1},{"r":18,"c":19,"w":-0.03},{"r":18,"c":20,"w":0},{"r":18,"c":21,"w":-0.1},{"r":18,"c":22,"w":0.05},{"r":18,"c":23,"w":0.1},{"r":18,"c":24,"w":0},{"r":18,"c":25,"w":0.1},{"r":18,"c":26,"w":-0.1},{"r":18,"c":27,"w":-0.08},{"r":18,"c":28,"w":0},{"r":18,"c":29,"w":0.02},{"r":18,"c":30,"w":0.02},{"r":18,"c":31,"w":0.1},{"r":18,"c":32,"w":-0.03},{"r":18,"c":33,"w":0.22},{"r":18,"c":34,"w":0},{"r":18,"c":35,"w":0},{"r":18,"c":36,"w":-0.03},{"r":18,"c":37,"w":0.07},{"r":18,"c":38,"w":-0.1},{"r":18,"c":39,"w":-0.08},{"r":18,"c":40,"w":0.07},{"r":18,"c":41,"w":-0.12},{"r":18,"c":42,"w":0.02},{"r":18,"c":43,"w":0.1},{"r":18,"c":44,"w":-0.03},{"r":18,"c":45,"w":0.12},{"r":18,"c":46,"w":0.1},{"r":18,"c":47,"w":0.15},{"r":18,"c":48,"w":0.1},{"r":18,"c":49,"w":0.12},{"r":18,"c":50,"w":-0.08},
{"r":19,"c":1,"w":-0.05},{"r":19,"c":2,"w":0.07},{"r":19,"c":3,"w":-0.08},{"r":19,"c":4,"w":0},{"r":19,"c":5,"w":0.07},{"r":19,"c":6,"w":-0.17},{"r":19,"c":7,"w":0.12},{"r":19,"c":8,"w":-0.12},{"r":19,"c":9,"w":0.12},{"r":19,"c":10,"w":0},{"r":19,"c":11,"w":0.02},{"r":19,"c":12,"w":-0.03},{"r":19,"c":13,"w":0.2},{"r":19,"c":14,"w":0.02},{"r":19,"c":15,"w":0},{"r":19,"c":16,"w":-0.03},{"r":19,"c":17,"w":0},{"r":19,"c":18,"w":0.07},{"r":19,"c":19,"w":0.05},{"r":19,"c":20,"w":-0.03},{"r":19,"c":21,"w":-0.03},{"r":19,"c":22,"w":-0.08},{"r":19,"c":23,"w":-0.1},{"r":19,"c":24,"w":0.15},{"r":19,"c":25,"w":-0.1},{"r":19,"c":26,"w":-0.03},{"r":19,"c":27,"w":0.1},{"r":19,"c":28,"w":0.02},{"r":19,"c":29,"w":-0.03},{"r":19,"c":30,"w":-0.03},{"r":19,"c":31,"w":0.07},{"r":19,"c":32,"w":0.05},{"r":19,"c":33,"w":0.02},{"r":19,"c":34,"w":-0.1},{"r":19,"c":35,"w":0.12},{"r":19,"c":36,"w":0.1},{"r":19,"c":37,"w":0.05},{"r":19,"c":38,"w":0.15},{"r":19,"c":39,"w":-0.15},{"r":19,"c":40,"w":0.07},{"r":19,"c":41,"w":-0.03},{"r":19,"c":42,"w":-0.08},{"r":19,"c":43,"w":0.07},{"r":19,"c":44,"w":0.02},{"r":19,"c":45,"w":0},{"r":19,"c":46,"w":0.12},{"r":19,"c":47,"w":0},{"r":19,"c":48,"w":0.02},{"r":19,"c":49,"w":0.07},{"r":19,"c":50,"w":0.02},
{"r":20,"c":1,"w":0.05},{"r":20,"c":2,"w":0.05},{"r":20,"c":3,"w":0.02},{"r":20,"c":4,"w":-0.1},{"r":20,"c":5,"w":0.02},{"r":20,"c":6,"w":-0.08},{"r":20,"c":7,"w":0.2},{"r":20,"c":8,"w":0.07},{"r":20,"c":9,"w":0.15},{"r":20,"c":10,"w":0.1},{"r":20,"c":11,"w":0.02},{"r":20,"c":12,"w":0.05},{"r":20,"c":13,"w":0.1},{"r":20,"c":14,"w":0.02},{"r":20,"c":15,"w":-0.08},{"r":20,"c":16,"w":-0.12},{"r":20,"c":17,"w":0.07},{"r":20,"c":18,"w":-0.05},{"r":20,"c":19,"w":0.2},{"r":20,"c":20,"w":-0.05},{"r":20,"c":21,"w":0.1},{"r":20,"c":22,"w":0.05},{"r":20,"c":23,"w":-0.03},{"r":20,"c":24,"w":0.12},{"r":20,"c":25,"w":0.02},{"r":20,"c":26,"w":-0.03},{"r":20,"c":27,"w":-0.03},{"r":20,"c":28,"w":-0.12},{"r":20,"c":29,"w":-0.1},{"r":20,"c":30,"w":0},{"r":20,"c":31,"w":-0.05},{"r":20,"c":32,"w":-0.03},{"r":20,"c":33,"w":0.1},{"r":20,"c":34,"w":-0.08},{"r":20,"c":35,"w":0.17},{"r":20,"c":36,"w":-0.03},{"r":20,"c":37,"w":0.05},{"r":20,"c":38,"w":0.05},{"r":20,"c":39,"w":0.07},{"r":20,"c":40,"w":0.1},{"r":20,"c":41,"w":-0.03},{"r":20,"c":42,"w":0.1},{"r":20,"c":43,"w":0},{"r":20,"c":44,"w":-0.1},{"r":20,"c":45,"w":0.02},{"r":20,"c":46,"w":0.12},{"r":20,"c":47,"w":0.07},{"r":20,"c":48,"w":0.02},{"r":20,"c":49,"w":-0.03},{"r":20,"c":50,"w":-0.05},
{"r":21,"c":1,"w":0.12},{"r":21,"c":2,"w":0.1},{"r":21,"c":3,"w":0.1},{"r":21,"c":4,"w":0.02},{"r":21,"c":5,"w":-0.08},{"r":21,"c":6,"w":-0.05},{"r":21,"c":7,"w":0.02},{"r":21,"c":8,"w":0.05},{"r":21,"c":9,"w":0.12},{"r":21,"c":10,"w":0.17},{"r":21,"c":11,"w":0.02},{"r":21,"c":12,"w":0.02},{"r":21,"c":13,"w":0.12},{"r":21,"c":14,"w":-0.05},{"r":21,"c":15,"w":-0.15},{"r":21,"c":16,"w":-0.12},{"r":21,"c":17,"w":-0.12},{"r":21,"c":18,"w":-0.03},{"r":21,"c":19,"w":0.07},{"r":21,"c":20,"w":0.02},{"r":21,"c":21,"w":-0.03},{"r":21,"c":22,"w":0},{"r":21,"c":23,"w":0},{"r":21,"c":24,"w":0.15},{"r":21,"c":25,"w":0.07},{"r":21,"c":26,"w":-0.08},{"r":21,"c":27,"w":-0.08},{"r":21,"c":28,"w":-0.03},{"r":21,"c":29,"w":0.02},{"r":21,"c":30,"w":0.02},{"r":21,"c":31,"w":0.02},{"r":21,"c":32,"w":0.05},{"r":21,"c":33,"w":0.07},{"r":21,"c":34,"w":0.1},{"r":21,"c":35,"w":0.1},{"r":21,"c":36,"w":-0.08},{"r":21,"c":37,"w":0.07},{"r":21,"c":38,"w":-0.2},{"r":21,"c":39,"w":0.05},{"r":21,"c":40,"w":0.07},{"r":21,"c":41,"w":-0.1},{"r":21,"c":42,"w":0.02},{"r":21,"c":43,"w":0.07},{"r":21,"c":44,"w":0.02},{"r":21,"c":45,"w":0.12},{"r":21,"c":46,"w":0.17},{"r":21,"c":47,"w":0.07},{"r":21,"c":48,"w":0.02},{"r":21,"c":49,"w":0.17},{"r":21,"c":50,"w":-0.1},
{"r":22,"c":1,"w":-0.05},{"r":22,"c":2,"w":0.05},{"r":22,"c":3,"w":-0.05},{"r":22,"c":4,"w":-0.08},{"r":22,"c":5,"w":0.24},{"r":22,"c":6,"w":0},{"r":22,"c":7,"w":0},{"r":22,"c":8,"w":-0.15},{"r":22,"c":9,"w":0.07},{"r":22,"c":10,"w":0.07},{"r":22,"c":11,"w":0.02},{"r":22,"c":12,"w":0},{"r":22,"c":13,"w":0.07},{"r":22,"c":14,"w":0.05},{"r":22,"c":15,"w":0},{"r":22,"c":16,"w":-0.1},{"r":22,"c":17,"w":0.05},{"r":22,"c":18,"w":-0.15},{"r":22,"c":19,"w":0.17},{"r":22,"c":20,"w":-0.05},{"r":22,"c":21,"w":-0.17},{"r":22,"c":22,"w":-0.03},{"r":22,"c":23,"w":-0.12},{"r":22,"c":24,"w":0.17},{"r":22,"c":25,"w":0.05},{"r":22,"c":26,"w":0.1},{"r":22,"c":27,"w":0.02},{"r":22,"c":28,"w":-0.08},{"r":22,"c":29,"w":-0.03},{"r":22,"c":30,"w":0.05},{"r":22,"c":31,"w":0.07},{"r":22,"c":32,"w":0.2},{"r":22,"c":33,"w":-0.05},{"r":22,"c":34,"w":-0.12},{"r":22,"c":35,"w":0.05},{"r":22,"c":36,"w":-0.03},{"r":22,"c":37,"w":0.07},{"r":22,"c":38,"w":-0.22},{"r":22,"c":39,"w":-0.22},{"r":22,"c":40,"w":0.07},{"r":22,"c":41,"w":0},{"r":22,"c":42,"w":0},{"r":22,"c":43,"w":0},{"r":22,"c":44,"w":-0.05},{"r":22,"c":45,"w":0.07},{"r":22,"c":46,"w":0.1},{"r":22,"c":47,"w":0.07},{"r":22,"c":48,"w":0.02},{"r":22,"c":49,"w":0.15},{"r":22,"c":50,"w":-0.03},
{"r":23,"c":1,"w":0},{"r":23,"c":2,"w":0.12},{"r":23,"c":3,"w":-0.05},{"r":23,"c":4,"w":0},{"r":23,"c":5,"w":0.27},{"r":23,"c":6,"w":0.02},{"r":23,"c":7,"w":0.2},{"r":23,"c":8,"w":-0.03},{"r":23,"c":9,"w":0.1},{"r":23,"c":10,"w":0.12},{"r":23,"c":11,"w":-0.05},{"r":23,"c":12,"w":-0.08},{"r":23,"c":13,"w":0.12},{"r":23,"c":14,"w":-0.03},{"r":23,"c":15,"w":-0.08},{"r":23,"c":16,"w":0.02},{"r":23,"c":17,"w":0.02},{"r":23,"c":18,"w":-0.1},{"r":23,"c":19,"w":0.12},{"r":23,"c":20,"w":0},{"r":23,"c":21,"w":0},{"r":23,"c":22,"w":-0.03},{"r":23,"c":23,"w":0.05},{"r":23,"c":24,"w":-0.05},{"r":23,"c":25,"w":-0.03},{"r":23,"c":26,"w":0.02},{"r":23,"c":27,"w":0.05},{"r":23,"c":28,"w":0},{"r":23,"c":29,"w":0.02},{"r":23,"c":30,"w":-0.08},{"r":23,"c":31,"w":-0.03},{"r":23,"c":32,"w":0.2},{"r":23,"c":33,"w":0.07},{"r":23,"c":34,"w":-0.05},{"r":23,"c":35,"w":0.17},{"r":23,"c":36,"w":0},{"r":23,"c":37,"w":0.17},{"r":23,"c":38,"w":0.17},{"r":23,"c":39,"w":-0.08},{"r":23,"c":40,"w":0.12},{"r":23,"c":41,"w":-0.15},{"r":23,"c":42,"w":0.05},{"r":23,"c":43,"w":0.05},{"r":23,"c":44,"w":0.1},{"r":23,"c":45,"w":0.02},{"r":23,"c":46,"w":0.15},{"r":23,"c":47,"w":0.1},{"r":23,"c":48,"w":0.05},{"r":23,"c":49,"w":0.15},{"r":23,"c":50,"w":-0.1},
{"r":24,"c":1,"w":0.05},{"r":24,"c":2,"w":0.07},{"r":24,"c":3,"w":0.12},{"r":24,"c":4,"w":-0.08},{"r":24,"c":5,"w":-0.17},{"r":24,"c":6,"w":0.02},{"r":24,"c":7,"w":0.05},{"r":24,"c":8,"w":0.17},{"r":24,"c":9,"w":0.15},{"r":24,"c":10,"w":0.1},{"r":24,"c":11,"w":-0.05},{"r":24,"c":12,"w":-0.08},{"r":24,"c":13,"w":0.12},{"r":24,"c":14,"w":0.02},{"r":24,"c":15,"w":-0.17},{"r":24,"c":16,"w":0.1},{"r":24,"c":17,"w":-0.08},{"r":24,"c":18,"w":0.02},{"r":24,"c":19,"w":0.2},{"r":24,"c":20,"w":-0.12},{"r":24,"c":21,"w":-0.08},{"r":24,"c":22,"w":0.05},{"r":24,"c":23,"w":0.12},{"r":24,"c":24,"w":-0.05},{"r":24,"c":25,"w":0.02},{"r":24,"c":26,"w":0},{"r":24,"c":27,"w":-0.12},{"r":24,"c":28,"w":0.02},{"r":24,"c":29,"w":-0.03},{"r":24,"c":30,"w":0.02},{"r":24,"c":31,"w":0.17},{"r":24,"c":32,"w":0.07},{"r":24,"c":33,"w":-0.03},{"r":24,"c":34,"w":0.07},{"r":24,"c":35,"w":0.1},{"r":24,"c":36,"w":-0.05},{"r":24,"c":37,"w":0.15},{"r":24,"c":38,"w":0.1},{"r":24,"c":39,"w":-0.15},{"r":24,"c":40,"w":0.12},{"r":24,"c":41,"w":0.02},{"r":24,"c":42,"w":-0.08},{"r":24,"c":43,"w":0.05},{"r":24,"c":44,"w":-0.05},{"r":24,"c":45,"w":0.07},{"r":24,"c":46,"w":0.1},{"r":24,"c":47,"w":0},{"r":24,"c":48,"w":-0.05},{"r":24,"c":49,"w":0.17},{"r":24,"c":50,"w":0.02},
{"r":25,"c":1,"w":0.1},{"r":25,"c":2,"w":-0.08},{"r":25,"c":3,"w":0.07},{"r":25,"c":4,"w":-0.1},{"r":25,"c":5,"w":-0.08},{"r":25,"c":6,"w":-0.03},{"r":25,"c":7,"w":0.05},{"r":25,"c":8,"w":-0.05},{"r":25,"c":9,"w":0.1},{"r":25,"c":10,"w":0.1},{"r":25,"c":11,"w":-0.05},{"r":25,"c":12,"w":-0.05},{"r":25,"c":13,"w":0},{"r":25,"c":14,"w":0},{"r":25,"c":15,"w":-0.17},{"r":25,"c":16,"w":0},{"r":25,"c":17,"w":-0.03},{"r":25,"c":18,"w":0.07},{"r":25,"c":19,"w":0.2},{"r":25,"c":20,"w":-0.03},{"r":25,"c":21,"w":0.05},{"r":25,"c":22,"w":0.05},{"r":25,"c":23,"w":-0.03},{"r":25,"c":24,"w":0.32},{"r":25,"c":25,"w":0.1},{"r":25,"c":26,"w":0},{"r":25,"c":27,"w":-0.03},{"r":25,"c":28,"w":0},{"r":25,"c":29,"w":-0.15},{"r":25,"c":30,"w":0.07},{"r":25,"c":31,"w":0.12},{"r":25,"c":32,"w":0.1},{"r":25,"c":33,"w":-0.08},{"r":25,"c":34,"w":0.05},{"r":25,"c":35,"w":0.05},{"r":25,"c":36,"w":-0.1},{"r":25,"c":37,"w":0.05},{"r":25,"c":38,"w":0},{"r":25,"c":39,"w":-0.15},{"r":25,"c":40,"w":-0.03},{"r":25,"c":41,"w":-0.08},{"r":25,"c":42,"w":-0.08},{"r":25,"c":43,"w":0.07},{"r":25,"c":44,"w":0.02},{"r":25,"c":45,"w":0.07},{"r":25,"c":46,"w":0.15},{"r":25,"c":47,"w":0.05},{"r":25,"c":48,"w":0},{"r":25,"c":49,"w":0.07},{"r":25,"c":50,"w":0},
{"r":26,"c":1,"w":0.07},{"r":26,"c":2,"w":0.12},{"r":26,"c":3,"w":-0.03},{"r":26,"c":4,"w":0.12},{"r":26,"c":5,"w":0.1},{"r":26,"c":6,"w":0.05},{"r":26,"c":7,"w":0.15},{"r":26,"c":8,"w":-0.05},{"r":26,"c":9,"w":0.2},{"r":26,"c":10,"w":0.05},{"r":26,"c":11,"w":-0.08},{"r":26,"c":12,"w":0.1},{"r":26,"c":13,"w":0.07},{"r":26,"c":14,"w":-0.03},{"r":26,"c":15,"w":0.02},{"r":26,"c":16,"w":0},{"r":26,"c":17,"w":0.02},{"r":26,"c":18,"w":-0.08},{"r":26,"c":19,"w":0},{"r":26,"c":20,"w":0},{"r":26,"c":21,"w":0},{"r":26,"c":22,"w":0.07},{"r":26,"c":23,"w":-0.05},{"r":26,"c":24,"w":-0.1},{"r":26,"c":25,"w":0.22},{"r":26,"c":26,"w":-0.08},{"r":26,"c":27,"w":-0.05},{"r":26,"c":28,"w":-0.12},{"r":26,"c":29,"w":-0.15},{"r":26,"c":30,"w":-0.08},{"r":26,"c":31,"w":0.1},{"r":26,"c":32,"w":0.05},{"r":26,"c":33,"w":0.27},{"r":26,"c":34,"w":-0.1},{"r":26,"c":35,"w":0.12},{"r":26,"c":36,"w":0.02},{"r":26,"c":37,"w":0.02},{"r":26,"c":38,"w":-0.1},{"r":26,"c":39,"w":-0.05},{"r":26,"c":40,"w":0.05},{"r":26,"c":41,"w":0.02},{"r":26,"c":42,"w":0.12},{"r":26,"c":43,"w":-0.03},{"r":26,"c":44,"w":-0.08},{"r":26,"c":45,"w":0.05},{"r":26,"c":46,"w":0.05},{"r":26,"c":47,"w":0.07},{"r":26,"c":48,"w":0.12},{"r":26,"c":49,"w":0.07},{"r":26,"c":50,"w":-0.17},
{"r":27,"c":1,"w":-0.05},{"r":27,"c":2,"w":-0.03},{"r":27,"c":3,"w":0.12},{"r":27,"c":4,"w":0.15},{"r":27,"c":5,"w":0.05},{"r":27,"c":6,"w":-0.03},{"r":27,"c":7,"w":0.07},{"r":27,"c":8,"w":0.1},{"r":27,"c":9,"w":0.17},{"r":27,"c":10,"w":0.27},{"r":27,"c":11,"w":-0.03},{"r":27,"c":12,"w":-0.03},{"r":27,"c":13,"w":0.07},{"r":27,"c":14,"w":-0.05},{"r":27,"c":15,"w":-0.05},{"r":27,"c":16,"w":0.02},{"r":27,"c":17,"w":0.12},{"r":27,"c":18,"w":-0.05},{"r":27,"c":19,"w":0},{"r":27,"c":20,"w":-0.03},{"r":27,"c":21,"w":0.07},{"r":27,"c":22,"w":0.07},{"r":27,"c":23,"w":0.1},{"r":27,"c":24,"w":-0.03},{"r":27,"c":25,"w":-0.08},{"r":27,"c":26,"w":-0.15},{"r":27,"c":27,"w":0.1},{"r":27,"c":28,"w":-0.15},{"r":27,"c":29,"w":-0.03},{"r":27,"c":30,"w":-0.1},{"r":27,"c":31,"w":0.02},{"r":27,"c":32,"w":0.12},{"r":27,"c":33,"w":0.1},{"r":27,"c":34,"w":0},{"r":27,"c":35,"w":0.1},{"r":27,"c":36,"w":0},{"r":27,"c":37,"w":0.15},{"r":27,"c":38,"w":0.02},{"r":27,"c":39,"w":-0.05},{"r":27,"c":40,"w":0.1},{"r":27,"c":41,"w":0.02},{"r":27,"c":42,"w":0},{"r":27,"c":43,"w":0},{"r":27,"c":44,"w":-0.1},{"r":27,"c":45,"w":0.1},{"r":27,"c":46,"w":0.22},{"r":27,"c":47,"w":0.2},{"r":27,"c":48,"w":0.05},{"r":27,"c":49,"w":0.02},{"r":27,"c":50,"w":0.05},
{"r":28,"c":1,"w":-0.03},{"r":28,"c":2,"w":0.17},{"r":28,"c":3,"w":0},{"r":28,"c":4,"w":-0.22},{"r":28,"c":5,"w":0},{"r":28,"c":6,"w":-0.05},{"r":28,"c":7,"w":0.1},{"r":28,"c":8,"w":-0.05},{"r":28,"c":9,"w":0.15},{"r":28,"c":10,"w":0.12},{"r":28,"c":11,"w":-0.08},{"r":28,"c":12,"w":0.05},{"r":28,"c":13,"w":0.07},{"r":28,"c":14,"w":-0.03},{"r":28,"c":15,"w":-0.03},{"r":28,"c":16,"w":-0.03},{"r":28,"c":17,"w":0.07},{"r":28,"c":18,"w":0.05},{"r":28,"c":19,"w":0.27},{"r":28,"c":20,"w":0},{"r":28,"c":21,"w":0.1},{"r":28,"c":22,"w":-0.03},{"r":28,"c":23,"w":-0.08},{"r":28,"c":24,"w":-0.08},{"r":28,"c":25,"w":-0.08},{"r":28,"c":26,"w":-0.05},{"r":28,"c":27,"w":0.24},{"r":28,"c":28,"w":-0.08},{"r":28,"c":29,"w":0.05},{"r":28,"c":30,"w":0.02},{"r":28,"c":31,"w":0.07},{"r":28,"c":32,"w":0.1},{"r":28,"c":33,"w":0.22},{"r":28,"c":34,"w":-0.05},{"r":28,"c":35,"w":0.05},{"r":28,"c":36,"w":0.07},{"r":28,"c":37,"w":-0.12},{"r":28,"c":38,"w":0},{"r":28,"c":39,"w":0},{"r":28,"c":40,"w":-0.27},{"r":28,"c":41,"w":0.07},{"r":28,"c":42,"w":-0.03},{"r":28,"c":43,"w":0.02},{"r":28,"c":44,"w":0.29},{"r":28,"c":45,"w":-0.03},{"r":28,"c":46,"w":-0.05},{"r":28,"c":47,"w":0.2},{"r":28,"c":48,"w":0.12},{"r":28,"c":49,"w":-0.08},{"r":28,"c":50,"w":0.15},
{"r":29,"c":1,"w":0.05},{"r":29,"c":2,"w":0.02},{"r":29,"c":3,"w":0.02},{"r":29,"c":4,"w":-0.17},{"r":29,"c":5,"w":0.15},{"r":29,"c":6,"w":0.02},{"r":29,"c":7,"w":0.07},{"r":29,"c":8,"w":-0.08},{"r":29,"c":9,"w":-0.03},{"r":29,"c":10,"w":0},{"r":29,"c":11,"w":-0.03},{"r":29,"c":12,"w":-0.05},{"r":29,"c":13,"w":0.12},{"r":29,"c":14,"w":0.07},{"r":29,"c":15,"w":-0.05},{"r":29,"c":16,"w":0.07},{"r":29,"c":17,"w":0.05},{"r":29,"c":18,"w":-0.03},{"r":29,"c":19,"w":0.1},{"r":29,"c":20,"w":-0.03},{"r":29,"c":21,"w":-0.15},{"r":29,"c":22,"w":0},{"r":29,"c":23,"w":-0.1},{"r":29,"c":24,"w":0.05},{"r":29,"c":25,"w":0.1},{"r":29,"c":26,"w":0.15},{"r":29,"c":27,"w":-0.05},{"r":29,"c":28,"w":-0.1},{"r":29,"c":29,"w":-0.03},{"r":29,"c":30,"w":0},{"r":29,"c":31,"w":0.07},{"r":29,"c":32,"w":0.1},{"r":29,"c":33,"w":0.1},{"r":29,"c":34,"w":-0.03},{"r":29,"c":35,"w":0.1},{"r":29,"c":36,"w":-0.1},{"r":29,"c":37,"w":0.17},{"r":29,"c":38,"w":-0.05},{"r":29,"c":39,"w":-0.15},{"r":29,"c":40,"w":0.2},{"r":29,"c":41,"w":-0.03},{"r":29,"c":42,"w":0.12},{"r":29,"c":43,"w":0.15},{"r":29,"c":44,"w":0.1},{"r":29,"c":45,"w":-0.08},{"r":29,"c":46,"w":0.02},{"r":29,"c":47,"w":0.15},{"r":29,"c":48,"w":-0.1},{"r":29,"c":49,"w":0.05},{"r":29,"c":50,"w":-0.05},
{"r":30,"c":1,"w":-0.03},{"r":30,"c":2,"w":-0.03},{"r":30,"c":3,"w":0.02},{"r":30,"c":4,"w":-0.03},{"r":30,"c":5,"w":-0.05},{"r":30,"c":6,"w":0.15},{"r":30,"c":7,"w":0.12},{"r":30,"c":8,"w":0.02},{"r":30,"c":9,"w":0.27},{"r":30,"c":10,"w":0},{"r":30,"c":11,"w":-0.05},{"r":30,"c":12,"w":0.05},{"r":30,"c":13,"w":0.07},{"r":30,"c":14,"w":-0.12},{"r":30,"c":15,"w":-0.08},{"r":30,"c":16,"w":-0.08},{"r":30,"c":17,"w":-0.1},{"r":30,"c":18,"w":-0.1},{"r":30,"c":19,"w":0.15},{"r":30,"c":20,"w":-0.1},{"r":30,"c":21,"w":-0.03},{"r":30,"c":22,"w":0},{"r":30,"c":23,"w":-0.03},{"r":30,"c":24,"w":0.05},{"r":30,"c":25,"w":0.07},{"r":30,"c":26,"w":-0.08},{"r":30,"c":27,"w":-0.08},{"r":30,"c":28,"w":0.02},{"r":30,"c":29,"w":-0.03},{"r":30,"c":30,"w":-0.03},{"r":30,"c":31,"w":0},{"r":30,"c":32,"w":0.15},{"r":30,"c":33,"w":0.05},{"r":30,"c":34,"w":0.02},{"r":30,"c":35,"w":0.1},{"r":30,"c":36,"w":-0.05},{"r":30,"c":37,"w":0.15},{"r":30,"c":38,"w":-0.08},{"r":30,"c":39,"w":-0.15},{"r":30,"c":40,"w":0.05},{"r":30,"c":41,"w":-0.03},{"r":30,"c":42,"w":-0.1},{"r":30,"c":43,"w":0},{"r":30,"c":44,"w":0},{"r":30,"c":45,"w":0.1},{"r":30,"c":46,"w":0.15},{"r":30,"c":47,"w":0.05},{"r":30,"c":48,"w":0.17},{"r":30,"c":49,"w":0.02},{"r":30,"c":50,"w":-0.03},
{"r":31,"c":1,"w":-0.05},{"r":31,"c":2,"w":-0.08},{"r":31,"c":3,"w":0.07},{"r":31,"c":4,"w":0.15},{"r":31,"c":5,"w":-0.05},{"r":31,"c":6,"w":-0.15},{"r":31,"c":7,"w":0.1},{"r":31,"c":8,"w":0},{"r":31,"c":9,"w":0.07},{"r":31,"c":10,"w":0.02},{"r":31,"c":11,"w":-0.05},{"r":31,"c":12,"w":0},{"r":31,"c":13,"w":0.17},{"r":31,"c":14,"w":-0.05},{"r":31,"c":15,"w":0.02},{"r":31,"c":16,"w":-0.1},{"r":31,"c":17,"w":-0.03},{"r":31,"c":18,"w":-0.08},{"r":31,"c":19,"w":0.22},{"r":31,"c":20,"w":0.02},{"r":31,"c":21,"w":-0.12},{"r":31,"c":22,"w":0.02},{"r":31,"c":23,"w":0.17},{"r":31,"c":24,"w":0},{"r":31,"c":25,"w":0.05},{"r":31,"c":26,"w":0},{"r":31,"c":27,"w":-0.08},{"r":31,"c":28,"w":-0.1},{"r":31,"c":29,"w":0.02},{"r":31,"c":30,"w":-0.1},{"r":31,"c":31,"w":0.07},{"r":31,"c":32,"w":0.05},{"r":31,"c":33,"w":0.07},{"r":31,"c":34,"w":-0.03},{"r":31,"c":35,"w":0.12},{"r":31,"c":36,"w":-0.03},{"r":31,"c":37,"w":-0.03},{"r":31,"c":38,"w":0},{"r":31,"c":39,"w":-0.12},{"r":31,"c":40,"w":0.07},{"r":31,"c":41,"w":-0.03},{"r":31,"c":42,"w":-0.05},{"r":31,"c":43,"w":0.05},{"r":31,"c":44,"w":-0.08},{"r":31,"c":45,"w":0.05},{"r":31,"c":46,"w":0.15},{"r":31,"c":47,"w":0.22},{"r":31,"c":48,"w":0.05},{"r":31,"c":49,"w":0.12},{"r":31,"c":50,"w":0.02},
{"r":32,"c":1,"w":0.1},{"r":32,"c":2,"w":0.1},{"r":32,"c":3,"w":0.12},{"r":32,"c":4,"w":0.05},{"r":32,"c":5,"w":0.24},{"r":32,"c":6,"w":0.05},{"r":32,"c":7,"w":0.05},{"r":32,"c":8,"w":-0.03},{"r":32,"c":9,"w":0.15},{"r":32,"c":10,"w":0.02},{"r":32,"c":11,"w":0.02},{"r":32,"c":12,"w":0.02},{"r":32,"c":13,"w":0.1},{"r":32,"c":14,"w":0.05},{"r":32,"c":15,"w":-0.1},{"r":32,"c":16,"w":-0.05},{"r":32,"c":17,"w":0.05},{"r":32,"c":18,"w":0.07},{"r":32,"c":19,"w":0.1},{"r":32,"c":20,"w":0.02},{"r":32,"c":21,"w":0.12},{"r":32,"c":22,"w":-0.05},{"r":32,"c":23,"w":-0.08},{"r":32,"c":24,"w":0.12},{"r":32,"c":25,"w":-0.03},{"r":32,"c":26,"w":-0.03},{"r":32,"c":27,"w":0},{"r":32,"c":28,"w":-0.15},{"r":32,"c":29,"w":-0.15},{"r":32,"c":30,"w":-0.03},{"r":32,"c":31,"w":0.2},{"r":32,"c":32,"w":0.07},{"r":32,"c":33,"w":0.02},{"r":32,"c":34,"w":-0.08},{"r":32,"c":35,"w":0.05},{"r":32,"c":36,"w":-0.05},{"r":32,"c":37,"w":0.07},{"r":32,"c":38,"w":0.05},{"r":32,"c":39,"w":0.07},{"r":32,"c":40,"w":0.12},{"r":32,"c":41,"w":-0.03},{"r":32,"c":42,"w":0.12},{"r":32,"c":43,"w":-0.15},{"r":32,"c":44,"w":-0.12},{"r":32,"c":45,"w":0.07},{"r":32,"c":46,"w":0.05},{"r":32,"c":47,"w":0.12},{"r":32,"c":48,"w":-0.15},{"r":32,"c":49,"w":0.12},{"r":32,"c":50,"w":0.17},
{"r":33,"c":1,"w":-0.1},{"r":33,"c":2,"w":0.1},{"r":33,"c":3,"w":0.02},{"r":33,"c":4,"w":-0.05},{"r":33,"c":5,"w":0.05},{"r":33,"c":6,"w":-0.05},{"r":33,"c":7,"w":0.17},{"r":33,"c":8,"w":-0.03},{"r":33,"c":9,"w":0.17},{"r":33,"c":10,"w":0.05},{"r":33,"c":11,"w":0.02},{"r":33,"c":12,"w":0.05},{"r":33,"c":13,"w":0.15},{"r":33,"c":14,"w":-0.05},{"r":33,"c":15,"w":-0.03},{"r":33,"c":16,"w":-0.05},{"r":33,"c":17,"w":0.02},{"r":33,"c":18,"w":0},{"r":33,"c":19,"w":-0.03},{"r":33,"c":20,"w":0.02},{"r":33,"c":21,"w":0.02},{"r":33,"c":22,"w":0.05},{"r":33,"c":23,"w":0.02},{"r":33,"c":24,"w":0.12},{"r":33,"c":25,"w":0.02},{"r":33,"c":26,"w":0.07},{"r":33,"c":27,"w":-0.05},{"r":33,"c":28,"w":0.07},{"r":33,"c":29,"w":-0.1},{"r":33,"c":30,"w":0},{"r":33,"c":31,"w":0.12},{"r":33,"c":32,"w":0.05},{"r":33,"c":33,"w":0},{"r":33,"c":34,"w":0.02},{"r":33,"c":35,"w":0.15},{"r":33,"c":36,"w":-0.03},{"r":33,"c":37,"w":0.07},{"r":33,"c":38,"w":0.05},{"r":33,"c":39,"w":-0.05},{"r":33,"c":40,"w":0.15},{"r":33,"c":41,"w":-0.12},{"r":33,"c":42,"w":-0.03},{"r":33,"c":43,"w":-0.05},{"r":33,"c":44,"w":0},{"r":33,"c":45,"w":0.12},{"r":33,"c":46,"w":0.17},{"r":33,"c":47,"w":0.02},{"r":33,"c":48,"w":0.1},{"r":33,"c":49,"w":0.07},{"r":33,"c":50,"w":-0.12},
{"r":34,"c":1,"w":-0.05},{"r":34,"c":2,"w":-0.03},{"r":34,"c":3,"w":-0.1},{"r":34,"c":4,"w":0},{"r":34,"c":5,"w":0.05},{"r":34,"c":6,"w":-0.1},{"r":34,"c":7,"w":0.02},{"r":34,"c":8,"w":0.05},{"r":34,"c":9,"w":0.1},{"r":34,"c":10,"w":0.12},{"r":34,"c":11,"w":0},{"r":34,"c":12,"w":0},{"r":34,"c":13,"w":0.1},{"r":34,"c":14,"w":0},{"r":34,"c":15,"w":0.02},{"r":34,"c":16,"w":-0.08},{"r":34,"c":17,"w":0.02},{"r":34,"c":18,"w":0.05},{"r":34,"c":19,"w":0.27},{"r":34,"c":20,"w":-0.03},{"r":34,"c":21,"w":-0.03},{"r":34,"c":22,"w":0.05},{"r":34,"c":23,"w":-0.12},{"r":34,"c":24,"w":0.1},{"r":34,"c":25,"w":0.02},{"r":34,"c":26,"w":0.05},{"r":34,"c":27,"w":0.07},{"r":34,"c":28,"w":0.12},{"r":34,"c":29,"w":0},{"r":34,"c":30,"w":0},{"r":34,"c":31,"w":0.05},{"r":34,"c":32,"w":0.15},{"r":34,"c":33,"w":0.1},{"r":34,"c":34,"w":-0.1},{"r":34,"c":35,"w":0.07},{"r":34,"c":36,"w":0.05},{"r":34,"c":37,"w":0},{"r":34,"c":38,"w":-0.1},{"r":34,"c":39,"w":-0.05},{"r":34,"c":40,"w":0.07},{"r":34,"c":41,"w":-0.03},{"r":34,"c":42,"w":0.07},{"r":34,"c":43,"w":0.22},{"r":34,"c":44,"w":0.02},{"r":34,"c":45,"w":0},{"r":34,"c":46,"w":0.22},{"r":34,"c":47,"w":0.05},{"r":34,"c":48,"w":0.07},{"r":34,"c":49,"w":0.05},{"r":34,"c":50,"w":0.1},
{"r":35,"c":1,"w":0.05},{"r":35,"c":2,"w":0.02},{"r":35,"c":3,"w":0.15},{"r":35,"c":4,"w":0.05},{"r":35,"c":5,"w":0},{"r":35,"c":6,"w":0},{"r":35,"c":7,"w":0.12},{"r":35,"c":8,"w":0.07},{"r":35,"c":9,"w":0.1},{"r":35,"c":10,"w":0.07},{"r":35,"c":11,"w":-0.08},{"r":35,"c":12,"w":0},{"r":35,"c":13,"w":0.05},{"r":35,"c":14,"w":-0.03},{"r":35,"c":15,"w":-0.08},{"r":35,"c":16,"w":-0.08},{"r":35,"c":17,"w":0.1},{"r":35,"c":18,"w":-0.08},{"r":35,"c":19,"w":0.17},{"r":35,"c":20,"w":-0.1},{"r":35,"c":21,"w":0.07},{"r":35,"c":22,"w":-0.08},{"r":35,"c":23,"w":-0.03},{"r":35,"c":24,"w":0.1},{"r":35,"c":25,"w":0},{"r":35,"c":26,"w":0},{"r":35,"c":27,"w":-0.08},{"r":35,"c":28,"w":-0.22},{"r":35,"c":29,"w":0.15},{"r":35,"c":30,"w":-0.05},{"r":35,"c":31,"w":0.02},{"r":35,"c":32,"w":0.1},{"r":35,"c":33,"w":0.07},{"r":35,"c":34,"w":-0.05},{"r":35,"c":35,"w":0.07},{"r":35,"c":36,"w":0},{"r":35,"c":37,"w":0.17},{"r":35,"c":38,"w":0.02},{"r":35,"c":39,"w":-0.03},{"r":35,"c":40,"w":0},{"r":35,"c":41,"w":0.07},{"r":35,"c":42,"w":-0.03},{"r":35,"c":43,"w":0.05},{"r":35,"c":44,"w":0.02},{"r":35,"c":45,"w":0},{"r":35,"c":46,"w":0.05},{"r":35,"c":47,"w":0.17},{"r":35,"c":48,"w":0.07},{"r":35,"c":49,"w":0.2},{"r":35,"c":50,"w":0.07},
{"r":36,"c":1,"w":0},{"r":36,"c":2,"w":0.15},{"r":36,"c":3,"w":0},{"r":36,"c":4,"w":0},{"r":36,"c":5,"w":-0.03},{"r":36,"c":6,"w":0.02},{"r":36,"c":7,"w":0.1},{"r":36,"c":8,"w":-0.12},{"r":36,"c":9,"w":-0.08},{"r":36,"c":10,"w":0.05},{"r":36,"c":11,"w":0.02},{"r":36,"c":12,"w":0},{"r":36,"c":13,"w":0.05},{"r":36,"c":14,"w":0.07},{"r":36,"c":15,"w":-0.03},{"r":36,"c":16,"w":0.07},{"r":36,"c":17,"w":0},{"r":36,"c":18,"w":-0.08},{"r":36,"c":19,"w":-0.12},{"r":36,"c":20,"w":0.05},{"r":36,"c":21,"w":0},{"r":36,"c":22,"w":0.05},{"r":36,"c":23,"w":0.12},{"r":36,"c":24,"w":0.07},{"r":36,"c":25,"w":0.02},{"r":36,"c":26,"w":0.1},{"r":36,"c":27,"w":-0.08},{"r":36,"c":28,"w":-0.08},{"r":36,"c":29,"w":-0.12},{"r":36,"c":30,"w":-0.03},{"r":36,"c":31,"w":0.07},{"r":36,"c":32,"w":0.15},{"r":36,"c":33,"w":0.12},{"r":36,"c":34,"w":0.1},{"r":36,"c":35,"w":0.15},{"r":36,"c":36,"w":-0.12},{"r":36,"c":37,"w":0.15},{"r":36,"c":38,"w":0.07},{"r":36,"c":39,"w":-0.27},{"r":36,"c":40,"w":0.1},{"r":36,"c":41,"w":0.1},{"r":36,"c":42,"w":-0.03},{"r":36,"c":43,"w":0.02},{"r":36,"c":44,"w":0},{"r":36,"c":45,"w":0.02},{"r":36,"c":46,"w":0},{"r":36,"c":47,"w":0.12},{"r":36,"c":48,"w":-0.03},{"r":36,"c":49,"w":-0.03},{"r":36,"c":50,"w":-0.03},
{"r":37,"c":1,"w":0.17},{"r":37,"c":2,"w":-0.05},{"r":37,"c":3,"w":-0.05},{"r":37,"c":4,"w":0.02},{"r":37,"c":5,"w":0.1},{"r":37,"c":6,"w":0.07},{"r":37,"c":7,"w":0.05},{"r":37,"c":8,"w":-0.1},{"r":37,"c":9,"w":0.02},{"r":37,"c":10,"w":-0.03},{"r":37,"c":11,"w":0},{"r":37,"c":12,"w":0.05},{"r":37,"c":13,"w":0.05},{"r":37,"c":14,"w":-0.03},{"r":37,"c":15,"w":0},{"r":37,"c":16,"w":0},{"r":37,"c":17,"w":-0.05},{"r":37,"c":18,"w":-0.03},{"r":37,"c":19,"w":-0.03},{"r":37,"c":20,"w":0.05},{"r":37,"c":21,"w":-0.15},{"r":37,"c":22,"w":0.05},{"r":37,"c":23,"w":0.02},{"r":37,"c":24,"w":0},{"r":37,"c":25,"w":0.15},{"r":37,"c":26,"w":-0.12},{"r":37,"c":27,"w":-0.05},{"r":37,"c":28,"w":0.02},{"r":37,"c":29,"w":-0.12},{"r":37,"c":30,"w":0.02},{"r":37,"c":31,"w":0.07},{"r":37,"c":32,"w":0.22},{"r":37,"c":33,"w":0.07},{"r":37,"c":34,"w":-0.05},{"r":37,"c":35,"w":0.17},{"r":37,"c":36,"w":-0.08},{"r":37,"c":37,"w":0},{"r":37,"c":38,"w":-0.12},{"r":37,"c":39,"w":-0.05},{"r":37,"c":40,"w":0.07},{"r":37,"c":41,"w":-0.12},{"r":37,"c":42,"w":0.05},{"r":37,"c":43,"w":0.17},{"r":37,"c":44,"w":0.07},{"r":37,"c":45,"w":0.1},{"r":37,"c":46,"w":0.12},{"r":37,"c":47,"w":0.02},{"r":37,"c":48,"w":0.07},{"r":37,"c":49,"w":0.15},{"r":37,"c":50,"w":-0.12},
{"r":38,"c":1,"w":0.05},{"r":38,"c":2,"w":0.1},{"r":38,"c":3,"w":-0.08},{"r":38,"c":4,"w":0},{"r":38,"c":5,"w":0.12},{"r":38,"c":6,"w":-0.03},{"r":38,"c":7,"w":0.05},{"r":38,"c":8,"w":0.05},{"r":38,"c":9,"w":0.2},{"r":38,"c":10,"w":0},{"r":38,"c":11,"w":-0.08},{"r":38,"c":12,"w":0.05},{"r":38,"c":13,"w":0.12},{"r":38,"c":14,"w":0},{"r":38,"c":15,"w":-0.12},{"r":38,"c":16,"w":-0.08},{"r":38,"c":17,"w":0.02},{"r":38,"c":18,"w":-0.1},{"r":38,"c":19,"w":0.27},{"r":38,"c":20,"w":0},{"r":38,"c":21,"w":0.07},{"r":38,"c":22,"w":-0.1},{"r":38,"c":23,"w":-0.03},{"r":38,"c":24,"w":0.1},{"r":38,"c":25,"w":0},{"r":38,"c":26,"w":-0.12},{"r":38,"c":27,"w":0.02},{"r":38,"c":28,"w":-0.05},{"r":38,"c":29,"w":0.1},{"r":38,"c":30,"w":0.05},{"r":38,"c":31,"w":0.27},{"r":38,"c":32,"w":0},{"r":38,"c":33,"w":0.05},{"r":38,"c":34,"w":-0.03},{"r":38,"c":35,"w":0.12},{"r":38,"c":36,"w":0.17},{"r":38,"c":37,"w":0.07},{"r":38,"c":38,"w":-0.03},{"r":38,"c":39,"w":0.07},{"r":38,"c":40,"w":0.07},{"r":38,"c":41,"w":0.02},{"r":38,"c":42,"w":0.12},{"r":38,"c":43,"w":-0.08},{"r":38,"c":44,"w":-0.1},{"r":38,"c":45,"w":0.05},{"r":38,"c":46,"w":0.07},{"r":38,"c":47,"w":0.12},{"r":38,"c":48,"w":0.05},{"r":38,"c":49,"w":0.24},{"r":38,"c":50,"w":-0.03},
{"r":39,"c":1,"w":-0.05},{"r":39,"c":2,"w":0.02},{"r":39,"c":3,"w":0.15},{"r":39,"c":4,"w":-0.05},{"r":39,"c":5,"w":0.05},{"r":39,"c":6,"w":0.05},{"r":39,"c":7,"w":0.02},{"r":39,"c":8,"w":0.02},{"r":39,"c":9,"w":0.15},{"r":39,"c":10,"w":0.07},{"r":39,"c":11,"w":-0.08},{"r":39,"c":12,"w":-0.08},{"r":39,"c":13,"w":0.15},{"r":39,"c":14,"w":0.02},{"r":39,"c":15,"w":-0.12},{"r":39,"c":16,"w":-0.1},{"r":39,"c":17,"w":0},{"r":39,"c":18,"w":0.02},{"r":39,"c":19,"w":0.15},{"r":39,"c":20,"w":-0.08},{"r":39,"c":21,"w":0.1},{"r":39,"c":22,"w":0.1},{"r":39,"c":23,"w":0.02},{"r":39,"c":24,"w":0.1},{"r":39,"c":25,"w":0},{"r":39,"c":26,"w":0},{"r":39,"c":27,"w":0.05},{"r":39,"c":28,"w":-0.03},{"r":39,"c":29,"w":0.12},{"r":39,"c":30,"w":0},{"r":39,"c":31,"w":0.32},{"r":39,"c":32,"w":-0.05},{"r":39,"c":33,"w":-0.1},{"r":39,"c":34,"w":-0.03},{"r":39,"c":35,"w":0.07},{"r":39,"c":36,"w":0.05},{"r":39,"c":37,"w":0.32},{"r":39,"c":38,"w":0.07},{"r":39,"c":39,"w":-0.03},{"r":39,"c":40,"w":0.17},{"r":39,"c":41,"w":0.07},{"r":39,"c":42,"w":-0.05},{"r":39,"c":43,"w":0.05},{"r":39,"c":44,"w":0},{"r":39,"c":45,"w":0.02},{"r":39,"c":46,"w":0.07},{"r":39,"c":47,"w":-0.05},{"r":39,"c":48,"w":0.07},{"r":39,"c":49,"w":-0.08},{"r":39,"c":50,"w":0.07},
{"r":40,"c":1,"w":-0.1},{"r":40,"c":2,"w":0.02},{"r":40,"c":3,"w":0.12},{"r":40,"c":4,"w":0.1},{"r":40,"c":5,"w":0},{"r":40,"c":6,"w":-0.12},{"r":40,"c":7,"w":0.1},{"r":40,"c":8,"w":-0.03},{"r":40,"c":9,"w":0.2},{"r":40,"c":10,"w":0.05},{"r":40,"c":11,"w":0.12},{"r":40,"c":12,"w":0.07},{"r":40,"c":13,"w":0.07},{"r":40,"c":14,"w":0},{"r":40,"c":15,"w":-0.12},{"r":40,"c":16,"w":0.07},{"r":40,"c":17,"w":0.07},{"r":40,"c":18,"w":-0.03},{"r":40,"c":19,"w":0.05},{"r":40,"c":20,"w":0},{"r":40,"c":21,"w":-0.03},{"r":40,"c":22,"w":-0.03},{"r":40,"c":23,"w":-0.08},{"r":40,"c":24,"w":0.05},{"r":40,"c":25,"w":0},{"r":40,"c":26,"w":-0.08},{"r":40,"c":27,"w":-0.03},{"r":40,"c":28,"w":-0.27},{"r":40,"c":29,"w":0.05},{"r":40,"c":30,"w":-0.03},{"r":40,"c":31,"w":-0.12},{"r":40,"c":32,"w":0.17},{"r":40,"c":33,"w":0.34},{"r":40,"c":34,"w":-0.03},{"r":40,"c":35,"w":0.05},{"r":40,"c":36,"w":-0.1},{"r":40,"c":37,"w":0.05},{"r":40,"c":38,"w":-0.05},{"r":40,"c":39,"w":-0.17},{"r":40,"c":40,"w":-0.03},{"r":40,"c":41,"w":-0.05},{"r":40,"c":42,"w":0},{"r":40,"c":43,"w":0.05},{"r":40,"c":44,"w":-0.03},{"r":40,"c":45,"w":0.02},{"r":40,"c":46,"w":0.17},{"r":40,"c":47,"w":0.02},{"r":40,"c":48,"w":0.1},{"r":40,"c":49,"w":0},{"r":40,"c":50,"w":0.1},
{"r":41,"c":1,"w":0.12},{"r":41,"c":2,"w":0.1},{"r":41,"c":3,"w":-0.03},{"r":41,"c":4,"w":-0.12},{"r":41,"c":5,"w":0.07},{"r":41,"c":6,"w":0.05},{"r":41,"c":7,"w":0.05},{"r":41,"c":8,"w":-0.1},{"r":41,"c":9,"w":0.12},{"r":41,"c":10,"w":0.05},{"r":41,"c":11,"w":0.05},{"r":41,"c":12,"w":0.05},{"r":41,"c":13,"w":0.02},{"r":41,"c":14,"w":-0.03},{"r":41,"c":15,"w":-0.1},{"r":41,"c":16,"w":-0.08},{"r":41,"c":17,"w":0},{"r":41,"c":18,"w":0.02},{"r":41,"c":19,"w":0.15},{"r":41,"c":20,"w":-0.03},{"r":41,"c":21,"w":0.05},{"r":41,"c":22,"w":0.05},{"r":41,"c":23,"w":0},{"r":41,"c":24,"w":0.2},{"r":41,"c":25,"w":0},{"r":41,"c":26,"w":-0.03},{"r":41,"c":27,"w":0.02},{"r":41,"c":28,"w":0.02},{"r":41,"c":29,"w":-0.15},{"r":41,"c":30,"w":-0.03},{"r":41,"c":31,"w":-0.1},{"r":41,"c":32,"w":0.15},{"r":41,"c":33,"w":0.27},{"r":41,"c":34,"w":0},{"r":41,"c":35,"w":0.15},{"r":41,"c":36,"w":-0.2},{"r":41,"c":37,"w":0.1},{"r":41,"c":38,"w":-0.05},{"r":41,"c":39,"w":-0.08},{"r":41,"c":40,"w":0.07},{"r":41,"c":41,"w":-0.08},{"r":41,"c":42,"w":0.1},{"r":41,"c":43,"w":0.05},{"r":41,"c":44,"w":0.02},{"r":41,"c":45,"w":-0.15},{"r":41,"c":46,"w":0.1},{"r":41,"c":47,"w":0.17},{"r":41,"c":48,"w":-0.08},{"r":41,"c":49,"w":0.17},{"r":41,"c":50,"w":0.05},
{"r":42,"c":1,"w":0.12},{"r":42,"c":2,"w":0.07},{"r":42,"c":3,"w":0.02},{"r":42,"c":4,"w":-0.15},{"r":42,"c":5,"w":0.02},{"r":42,"c":6,"w":-0.05},{"r":42,"c":7,"w":0.12},{"r":42,"c":8,"w":0.07},{"r":42,"c":9,"w":-0.03},{"r":42,"c":10,"w":0.02},{"r":42,"c":11,"w":-0.25},{"r":42,"c":12,"w":-0.03},{"r":42,"c":13,"w":0.2},{"r":42,"c":14,"w":-0.05},{"r":42,"c":15,"w":-0.03},{"r":42,"c":16,"w":-0.17},{"r":42,"c":17,"w":0},{"r":42,"c":18,"w":-0.1},{"r":42,"c":19,"w":0.05},{"r":42,"c":20,"w":-0.05},{"r":42,"c":21,"w":-0.03},{"r":42,"c":22,"w":0},{"r":42,"c":23,"w":-0.1},{"r":42,"c":24,"w":0.15},{"r":42,"c":25,"w":0.05},{"r":42,"c":26,"w":0.02},{"r":42,"c":27,"w":-0.17},{"r":42,"c":28,"w":0.05},{"r":42,"c":29,"w":-0.03},{"r":42,"c":30,"w":0},{"r":42,"c":31,"w":0.27},{"r":42,"c":32,"w":0.17},{"r":42,"c":33,"w":-0.2},{"r":42,"c":34,"w":0},{"r":42,"c":35,"w":0.1},{"r":42,"c":36,"w":0.1},{"r":42,"c":37,"w":0.02},{"r":42,"c":38,"w":0.07},{"r":42,"c":39,"w":-0.12},{"r":42,"c":40,"w":0.05},{"r":42,"c":41,"w":-0.05},{"r":42,"c":42,"w":0},{"r":42,"c":43,"w":0.15},{"r":42,"c":44,"w":0.05},{"r":42,"c":45,"w":0.07},{"r":42,"c":46,"w":-0.03},{"r":42,"c":47,"w":-0.03},{"r":42,"c":48,"w":0.07},{"r":42,"c":49,"w":0.02},{"r":42,"c":50,"w":-0.17},
{"r":43,"c":1,"w":-0.05},{"r":43,"c":2,"w":0},{"r":43,"c":3,"w":-0.03},{"r":43,"c":4,"w":0.05},{"r":43,"c":5,"w":0.07},{"r":43,"c":6,"w":-0.03},{"r":43,"c":7,"w":0.12},{"r":43,"c":8,"w":0},{"r":43,"c":9,"w":0.02},{"r":43,"c":10,"w":0.1},{"r":43,"c":11,"w":-0.08},{"r":43,"c":12,"w":-0.1},{"r":43,"c":13,"w":0.02},{"r":43,"c":14,"w":0},{"r":43,"c":15,"w":0.07},{"r":43,"c":16,"w":-0.03},{"r":43,"c":17,"w":0.12},{"r":43,"c":18,"w":-0.08},{"r":43,"c":19,"w":0.02},{"r":43,"c":20,"w":0.02},{"r":43,"c":21,"w":-0.12},{"r":43,"c":22,"w":-0.03},{"r":43,"c":23,"w":0},{"r":43,"c":24,"w":0},{"r":43,"c":25,"w":-0.17},{"r":43,"c":26,"w":0.07},{"r":43,"c":27,"w":0.2},{"r":43,"c":28,"w":-0.05},{"r":43,"c":29,"w":0.07},{"r":43,"c":30,"w":0},{"r":43,"c":31,"w":0.17},{"r":43,"c":32,"w":0.22},{"r":43,"c":33,"w":-0.03},{"r":43,"c":34,"w":-0.17},{"r":43,"c":35,"w":0.07},{"r":43,"c":36,"w":0.07},{"r":43,"c":37,"w":0},{"r":43,"c":38,"w":0.02},{"r":43,"c":39,"w":-0.15},{"r":43,"c":40,"w":0},{"r":43,"c":41,"w":-0.03},{"r":43,"c":42,"w":0.05},{"r":43,"c":43,"w":0.05},{"r":43,"c":44,"w":0},{"r":43,"c":45,"w":0.07},{"r":43,"c":46,"w":0.07},{"r":43,"c":47,"w":0.07},{"r":43,"c":48,"w":-0.12},{"r":43,"c":49,"w":0.07},{"r":43,"c":50,"w":-0.1},
{"r":44,"c":1,"w":0.1},{"r":44,"c":2,"w":0.02},{"r":44,"c":3,"w":0},{"r":44,"c":4,"w":-0.05},{"r":44,"c":5,"w":0.22},{"r":44,"c":6,"w":-0.08},{"r":44,"c":7,"w":0.07},{"r":44,"c":8,"w":-0.03},{"r":44,"c":9,"w":0.27},{"r":44,"c":10,"w":0.07},{"r":44,"c":11,"w":-0.08},{"r":44,"c":12,"w":-0.03},{"r":44,"c":13,"w":0.12},{"r":44,"c":14,"w":0},{"r":44,"c":15,"w":-0.2},{"r":44,"c":16,"w":-0.03},{"r":44,"c":17,"w":0.02},{"r":44,"c":18,"w":0},{"r":44,"c":19,"w":0.32},{"r":44,"c":20,"w":-0.15},{"r":44,"c":21,"w":0.05},{"r":44,"c":22,"w":0.02},{"r":44,"c":23,"w":0.07},{"r":44,"c":24,"w":0.05},{"r":44,"c":25,"w":-0.05},{"r":44,"c":26,"w":-0.03},{"r":44,"c":27,"w":-0.05},{"r":44,"c":28,"w":-0.08},{"r":44,"c":29,"w":-0.2},{"r":44,"c":30,"w":0},{"r":44,"c":31,"w":0.07},{"r":44,"c":32,"w":0.1},{"r":44,"c":33,"w":0.07},{"r":44,"c":34,"w":0.15},{"r":44,"c":35,"w":0.15},{"r":44,"c":36,"w":-0.1},{"r":44,"c":37,"w":0.07},{"r":44,"c":38,"w":0},{"r":44,"c":39,"w":0.02},{"r":44,"c":40,"w":0.12},{"r":44,"c":41,"w":-0.1},{"r":44,"c":42,"w":-0.1},{"r":44,"c":43,"w":-0.03},{"r":44,"c":44,"w":-0.05},{"r":44,"c":45,"w":-0.03},{"r":44,"c":46,"w":0.12},{"r":44,"c":47,"w":0.1},{"r":44,"c":48,"w":0.1},{"r":44,"c":49,"w":0.12},{"r":44,"c":50,"w":0},
{"r":45,"c":1,"w":0.02},{"r":45,"c":2,"w":0.07},{"r":45,"c":3,"w":0.12},{"r":45,"c":4,"w":-0.08},{"r":45,"c":5,"w":0.1},{"r":45,"c":6,"w":0},{"r":45,"c":7,"w":0},{"r":45,"c":8,"w":0.07},{"r":45,"c":9,"w":0.1},{"r":45,"c":10,"w":0.15},{"r":45,"c":11,"w":0},{"r":45,"c":12,"w":0.05},{"r":45,"c":13,"w":0.15},{"r":45,"c":14,"w":-0.05},{"r":45,"c":15,"w":-0.03},{"r":45,"c":16,"w":-0.03},{"r":45,"c":17,"w":-0.03},{"r":45,"c":18,"w":-0.03},{"r":45,"c":19,"w":0.17},{"r":45,"c":20,"w":0.02},{"r":45,"c":21,"w":0.1},{"r":45,"c":22,"w":-0.08},{"r":45,"c":23,"w":0.05},{"r":45,"c":24,"w":0.12},{"r":45,"c":25,"w":0.12},{"r":45,"c":26,"w":-0.15},{"r":45,"c":27,"w":0},{"r":45,"c":28,"w":0},{"r":45,"c":29,"w":-0.2},{"r":45,"c":30,"w":0},{"r":45,"c":31,"w":0.17},{"r":45,"c":32,"w":0.1},{"r":45,"c":33,"w":0},{"r":45,"c":34,"w":0.07},{"r":45,"c":35,"w":0.02},{"r":45,"c":36,"w":-0.05},{"r":45,"c":37,"w":0.17},{"r":45,"c":38,"w":-0.03},{"r":45,"c":39,"w":-0.08},{"r":45,"c":40,"w":0.07},{"r":45,"c":41,"w":0.05},{"r":45,"c":42,"w":-0.03},{"r":45,"c":43,"w":-0.17},{"r":45,"c":44,"w":-0.08},{"r":45,"c":45,"w":-0.12},{"r":45,"c":46,"w":0},{"r":45,"c":47,"w":0.05},{"r":45,"c":48,"w":0.15},{"r":45,"c":49,"w":0.1},{"r":45,"c":50,"w":-0.1},
{"r":46,"c":1,"w":0.05},{"r":46,"c":2,"w":0},{"r":46,"c":3,"w":-0.05},{"r":46,"c":4,"w":-0.03},{"r":46,"c":5,"w":-0.03},{"r":46,"c":6,"w":-0.05},{"r":46,"c":7,"w":0.07},{"r":46,"c":8,"w":-0.05},{"r":46,"c":9,"w":0.15},{"r":46,"c":10,"w":-0.03},{"r":46,"c":11,"w":0.05},{"r":46,"c":12,"w":0},{"r":46,"c":13,"w":-0.05},{"r":46,"c":14,"w":0.02},{"r":46,"c":15,"w":0},{"r":46,"c":16,"w":-0.05},{"r":46,"c":17,"w":0},{"r":46,"c":18,"w":-0.08},{"r":46,"c":19,"w":0},{"r":46,"c":20,"w":-0.12},{"r":46,"c":21,"w":0},{"r":46,"c":22,"w":0.07},{"r":46,"c":23,"w":0},{"r":46,"c":24,"w":0.05},{"r":46,"c":25,"w":0.07},{"r":46,"c":26,"w":0.07},{"r":46,"c":27,"w":0.02},{"r":46,"c":28,"w":0.05},{"r":46,"c":29,"w":0.15},{"r":46,"c":30,"w":0.05},{"r":46,"c":31,"w":0.1},{"r":46,"c":32,"w":0.12},{"r":46,"c":33,"w":0.07},{"r":46,"c":34,"w":-0.12},{"r":46,"c":35,"w":0.02},{"r":46,"c":36,"w":0.12},{"r":46,"c":37,"w":0.12},{"r":46,"c":38,"w":-0.12},{"r":46,"c":39,"w":-0.22},{"r":46,"c":40,"w":0.1},{"r":46,"c":41,"w":-0.2},{"r":46,"c":42,"w":0.05},{"r":46,"c":43,"w":0.32},{"r":46,"c":44,"w":0},{"r":46,"c":45,"w":0.24},{"r":46,"c":46,"w":0.12},{"r":46,"c":47,"w":0.07},{"r":46,"c":48,"w":-0.17},{"r":46,"c":49,"w":0.02},{"r":46,"c":50,"w":-0.08},
{"r":47,"c":1,"w":0.05},{"r":47,"c":2,"w":0.07},{"r":47,"c":3,"w":0.12},{"r":47,"c":4,"w":0},{"r":47,"c":5,"w":-0.03},{"r":47,"c":6,"w":-0.08},{"r":47,"c":7,"w":0.02},{"r":47,"c":8,"w":-0.08},{"r":47,"c":9,"w":0.22},{"r":47,"c":10,"w":0.15},{"r":47,"c":11,"w":-0.05},{"r":47,"c":12,"w":0.02},{"r":47,"c":13,"w":0.07},{"r":47,"c":14,"w":-0.05},{"r":47,"c":15,"w":-0.08},{"r":47,"c":16,"w":-0.08},{"r":47,"c":17,"w":0.1},{"r":47,"c":18,"w":-0.17},{"r":47,"c":19,"w":-0.03},{"r":47,"c":20,"w":0.02},{"r":47,"c":21,"w":-0.03},{"r":47,"c":22,"w":-0.08},{"r":47,"c":23,"w":-0.08},{"r":47,"c":24,"w":0.05},{"r":47,"c":25,"w":-0.08},{"r":47,"c":26,"w":-0.05},{"r":47,"c":27,"w":0},{"r":47,"c":28,"w":-0.15},{"r":47,"c":29,"w":0.05},{"r":47,"c":30,"w":-0.05},{"r":47,"c":31,"w":0.02},{"r":47,"c":32,"w":0.07},{"r":47,"c":33,"w":0.1},{"r":47,"c":34,"w":-0.1},{"r":47,"c":35,"w":0.2},{"r":47,"c":36,"w":0.07},{"r":47,"c":37,"w":-0.08},{"r":47,"c":38,"w":0.02},{"r":47,"c":39,"w":-0.1},{"r":47,"c":40,"w":0.12},{"r":47,"c":41,"w":0.02},{"r":47,"c":42,"w":0},{"r":47,"c":43,"w":0.15},{"r":47,"c":44,"w":-0.1},{"r":47,"c":45,"w":0.07},{"r":47,"c":46,"w":0.1},{"r":47,"c":47,"w":0.07},{"r":47,"c":48,"w":0},{"r":47,"c":49,"w":0.15},{"r":47,"c":50,"w":0.12},
{"r":48,"c":1,"w":-0.1},{"r":48,"c":2,"w":0.07},{"r":48,"c":3,"w":0.07},{"r":48,"c":4,"w":0.02},{"r":48,"c":5,"w":0.05},{"r":48,"c":6,"w":-0.05},{"r":48,"c":7,"w":0.05},{"r":48,"c":8,"w":-0.1},{"r":48,"c":9,"w":-0.03},{"r":48,"c":10,"w":0.1},{"r":48,"c":11,"w":0.05},{"r":48,"c":12,"w":-0.03},{"r":48,"c":13,"w":0.05},{"r":48,"c":14,"w":0.05},{"r":48,"c":15,"w":-0.08},{"r":48,"c":16,"w":0},{"r":48,"c":17,"w":-0.03},{"r":48,"c":18,"w":0.05},{"r":48,"c":19,"w":0.24},{"r":48,"c":20,"w":-0.03},{"r":48,"c":21,"w":-0.05},{"r":48,"c":22,"w":0.02},{"r":48,"c":23,"w":0.1},{"r":48,"c":24,"w":-0.03},{"r":48,"c":25,"w":0.1},{"r":48,"c":26,"w":-0.08},{"r":48,"c":27,"w":-0.1},{"r":48,"c":28,"w":0},{"r":48,"c":29,"w":-0.1},{"r":48,"c":30,"w":-0.05},{"r":48,"c":31,"w":0.17},{"r":48,"c":32,"w":0.29},{"r":48,"c":33,"w":0.05},{"r":48,"c":34,"w":0.07},{"r":48,"c":35,"w":0.02},{"r":48,"c":36,"w":-0.1},{"r":48,"c":37,"w":0},{"r":48,"c":38,"w":0.12},{"r":48,"c":39,"w":-0.05},{"r":48,"c":40,"w":0.07},{"r":48,"c":41,"w":0.05},{"r":48,"c":42,"w":0},{"r":48,"c":43,"w":-0.05},{"r":48,"c":44,"w":-0.05},{"r":48,"c":45,"w":-0.2},{"r":48,"c":46,"w":0.02},{"r":48,"c":47,"w":0.05},{"r":48,"c":48,"w":-0.03},{"r":48,"c":49,"w":0.07},{"r":48,"c":50,"w":-0.1},
{"r":49,"c":1,"w":0.22},{"r":49,"c":2,"w":0.07},{"r":49,"c":3,"w":-0.12},{"r":49,"c":4,"w":0.07},{"r":49,"c":5,"w":0.05},{"r":49,"c":6,"w":-0.03},{"r":49,"c":7,"w":0.22},{"r":49,"c":8,"w":0.1},{"r":49,"c":9,"w":0},{"r":49,"c":10,"w":-0.05},{"r":49,"c":11,"w":0},{"r":49,"c":12,"w":0.1},{"r":49,"c":13,"w":0.1},{"r":49,"c":14,"w":0},{"r":49,"c":15,"w":0},{"r":49,"c":16,"w":-0.12},{"r":49,"c":17,"w":0.1},{"r":49,"c":18,"w":-0.08},{"r":49,"c":19,"w":0.02},{"r":49,"c":20,"w":-0.05},{"r":49,"c":21,"w":-0.05},{"r":49,"c":22,"w":-0.03},{"r":49,"c":23,"w":-0.17},{"r":49,"c":24,"w":0.02},{"r":49,"c":25,"w":0.02},{"r":49,"c":26,"w":0.02},{"r":49,"c":27,"w":0.05},{"r":49,"c":28,"w":0},{"r":49,"c":29,"w":-0.05},{"r":49,"c":30,"w":0.02},{"r":49,"c":31,"w":-0.05},{"r":49,"c":32,"w":0.15},{"r":49,"c":33,"w":0.12},{"r":49,"c":34,"w":-0.03},{"r":49,"c":35,"w":0},{"r":49,"c":36,"w":0.1},{"r":49,"c":37,"w":-0.05},{"r":49,"c":38,"w":0.02},{"r":49,"c":39,"w":0.05},{"r":49,"c":40,"w":-0.12},{"r":49,"c":41,"w":0.15},{"r":49,"c":42,"w":-0.17},{"r":49,"c":43,"w":0},{"r":49,"c":44,"w":-0.08},{"r":49,"c":45,"w":0.1},{"r":49,"c":46,"w":0.15},{"r":49,"c":47,"w":0.02},{"r":49,"c":48,"w":-0.03},{"r":49,"c":49,"w":0.07},{"r":49,"c":50,"w":0.05},
{"r":50,"c":1,"w":0.07},{"r":50,"c":2,"w":0.02},{"r":50,"c":3,"w":-0.08},{"r":50,"c":4,"w":-0.1},{"r":50,"c":5,"w":-0.08},{"r":50,"c":6,"w":-0.08},{"r":50,"c":7,"w":0.07},{"r":50,"c":8,"w":0.12},{"r":50,"c":9,"w":0.2},{"r":50,"c":10,"w":0.05},{"r":50,"c":11,"w":-0.1},{"r":50,"c":12,"w":-0.08},{"r":50,"c":13,"w":-0.03},{"r":50,"c":14,"w":0.02},{"r":50,"c":15,"w":-0.05},{"r":50,"c":16,"w":0},{"r":50,"c":17,"w":-0.12},{"r":50,"c":18,"w":0.15},{"r":50,"c":19,"w":0.07},{"r":50,"c":20,"w":0},{"r":50,"c":21,"w":0},{"r":50,"c":22,"w":0},{"r":50,"c":23,"w":-0.03},{"r":50,"c":24,"w":0.1},{"r":50,"c":25,"w":0.07},{"r":50,"c":26,"w":-0.03},{"r":50,"c":27,"w":-0.08},{"r":50,"c":28,"w":-0.1},{"r":50,"c":29,"w":-0.08},{"r":50,"c":30,"w":0.02},{"r":50,"c":31,"w":-0.05},{"r":50,"c":32,"w":0.05},{"r":50,"c":33,"w":-0.08},{"r":50,"c":34,"w":-0.05},{"r":50,"c":35,"w":0.07},{"r":50,"c":36,"w":-0.03},{"r":50,"c":37,"w":0},{"r":50,"c":38,"w":-0.2},{"r":50,"c":39,"w":-0.12},{"r":50,"c":40,"w":0.07},{"r":50,"c":41,"w":-0.12},{"r":50,"c":42,"w":-0.05},{"r":50,"c":43,"w":-0.08},{"r":50,"c":44,"w":-0.08},{"r":50,"c":45,"w":0.07},{"r":50,"c":46,"w":-0.08},{"r":50,"c":47,"w":0.05},{"r":50,"c":48,"w":0.05},{"r":50,"c":49,"w":0},{"r":50,"c":50,"w":-0.05}
],
"bands":[{"lo":0.4275,"hi":0.452,"w":0.44},{"lo":0.4029,"hi":0.4275,"w":0.415},{"lo":0.3784,"hi":0.4029,"w":0.391},{"lo":0.3539,"hi":0.3784,"w":0.366},{"lo":0.3293,"hi":0.3539,"w":0.342},{"lo":0.3048,"hi":0.3293,"w":0.317},{"lo":0.2803,"hi":0.3048,"w":0.293},{"lo":0.2557,"hi":0.2803,"w":0.268},{"lo":0.2312,"hi":0.2557,"w":0.243},{"lo":0.2067,"hi":0.2312,"w":0.219},{"lo":0.1821,"hi":0.2067,"w":0.194},{"lo":0.1576,"hi":0.1821,"w":0.17},{"lo":0.1331,"hi":0.1576,"w":0.145},{"lo":0.1085,"hi":0.1331,"w":0.121},{"lo":0.084,"hi":0.1085,"w":0.096},{"lo":0.0595,"hi":0.084,"w":0.072},{"lo":0.0349,"hi":0.0595,"w":0.047},{"lo":0.0104,"hi":0.0349,"w":0.023},{"lo":-0.0141,"hi":0.0104,"w":-0.002},{"lo":-0.0387,"hi":-0.0141,"w":-0.026},{"lo":-0.0632,"hi":-0.0387,"w":-0.051},{"lo":-0.0877,"hi":-0.0632,"w":-0.075},{"lo":-0.1123,"hi":-0.0877,"w":-0.1},{"lo":-0.1368,"hi":-0.1123,"w":-0.125},{"lo":-0.1613,"hi":-0.1368,"w":-0.149},{"lo":-0.1859,"hi":-0.1613,"w":-0.174},{"lo":-0.2104,"hi":-0.1859,"w":-0.198},{"lo":-0.2349,"hi":-0.2104,"w":-0.223},{"lo":-0.2595,"hi":-0.2349,"w":-0.247},{"lo":-0.284,"hi":-0.2595,"w":-0.272}]
},
"resolve":{"scale":{"x":"independent","y":"independent"},"axis":{"x":"independent","y":"independent"}},
"layer":[
{"data":{"name":"bars"},"encoding":{
"x":{"field":"n","type":"quantitative","scale":{"domain":[0.54,50.56],"range":[230,1648],"padding":0,"nice":false,"zero":false},
"axis":{"orient":"bottom","offset":-1674,"values":[5,10,15,20,25,30,35,40,45,50],"labelExpr":"datum.value%10==0?datum.value:''","labelFontSize":45,"labelPadding":16,"labelFlush":false,"tickSize":{"condition":{"test":"datum.value%10==0","value":24},"value":13},"tickWidth":4,"domainWidth":4,"title":"Hidden neurons number","titleFontSize":60,"titleX":938,"titleY":164,"titleBaseline":"alphabetic","titleAnchor":"middle","titleAlign":"center"}},
"y":{"field":"w","type":"quantitative","stack":null,"scale":{"domain":[-0.6,0.6],"range":[651,56],"nice":false,"zero":false},
"axis":{"orient":"left","offset":-230,"values":[-0.6,-0.5,-0.4,-0.3,-0.2,-0.1,0,0.1,0.2,0.3,0.4,0.5,0.6],"labelExpr":"abs(round(datum.value*10))%2==0?format(datum.value,'.1f'):''","labelFontSize":45,"labelPadding":8,"tickSize":{"condition":{"test":"abs(round(datum.value*10))%2==0","value":26},"value":13},"tickWidth":4,"domainWidth":4,"title":"Weighting factor","titleFontSize":60,"titleX":-143,"titleY":352,"titleAngle":-90,"titleBaseline":"alphabetic","titleAlign":"center"}}},
"layer":[
{"mark":{"type":"bar","width":23,"fill":"#ff0000","stroke":"#000","strokeWidth":2.5}},
{"data":{"values":[{"a":0.54,"b":50.56,"w":0}]},"mark":{"type":"rule","color":"#000","strokeWidth":5},"encoding":{"x":{"field":"a","type":"quantitative"},"x2":{"field":"b"},"y":{"field":"w","type":"quantitative"}}}
]},
{"data":{"name":"heat"},"mark":{"type":"rect","strokeWidth":0},
"encoding":{
"x":{"field":"c","type":"ordinal","scale":{"domain":[1,2,3,4,5,6,7,8,9,10,11,12,13,14,15,16,17,18,19,20,21,22,23,24,25,26,27,28,29,30,31,32,33,34,35,36,37,38,39,40,41,42,43,44,45,46,47,48,49,50],"range":[216,1360],"paddingInner":0,"paddingOuter":0},
"axis":{"orient":"top","offset":-1189,"values":[10,20,30,40,50],"labelAngle":-90,"labelAlign":"left","labelBaseline":"middle","labelFontSize":41,"labelPadding":18,"tickSize":23,"tickWidth":4,"domain":false,"title":"Hidden layer of neurons","titleFontSize":57,"titleX":787,"titleY":-126,"titleBaseline":"alphabetic","titleAlign":"center"}},
"y":{"field":"r","type":"ordinal","scale":{"domain":[1,2,3,4,5,6,7,8,9,10,11,12,13,14,15,16,17,18,19,20,21,22,23,24,25,26,27,28,29,30,31,32,33,34,35,36,37,38,39,40,41,42,43,44,45,46,47,48,49,50],"range":[1189,2289],"paddingInner":0,"paddingOuter":0},
"axis":{"orient":"left","offset":-216,"values":[10,20,30,40,50],"labelAngle":0,"labelFontSize":41,"labelPadding":18,"tickSize":22,"tickWidth":4,"domain":false,"title":"Input neurons","titleFontSize":57,"titleX":-140,"titleY":1737,"titleAngle":-90,"titleBaseline":"alphabetic","titleAlign":"center"}},
"color":{"field":"w","type":"quantitative","legend":null,"scale":{"type":"quantize","domain":[-0.284,0.452],"range":["#0000ff","#1212ff","#2323ff","#3535ff","#4646ff","#5858ff","#6969ff","#7b7bff","#8d8dff","#9e9eff","#b0b0ff","#c2c2ff","#d3d3ff","#e5e5ff","#f6f6ff","#fff6f6","#ffe5e5","#ffd3d3","#ffc2c2","#ffb0b0","#ff9e9e","#ff8d8d","#ff7b7b","#ff6969","#ff5858","#ff4646","#ff3535","#ff2323","#ff1212","#ff0000"]}}}},
{"data":{"name":"bands"},"mark":{"type":"rect","strokeWidth":0},
"encoding":{
"x":{"datum":0,"type":"quantitative","scale":{"domain":[0,1],"range":[1458,1537]},"axis":null},
"x2":{"datum":1},
"y":{"field":"hi","type":"quantitative","scale":{"domain":[-0.284,0.452],"range":[2251.6,1218],"nice":false,"zero":false},
"axis":{"orient":"right","offset":-2382,"values":[0.452,0.3048,0.1576,0.0104,-0.1368,-0.284],"labelExpr":"datum.value==0.0104?'0.01040':format(datum.value,'.4f')","labelFontSize":30,"labelPadding":11,"tickSize":22,"tickWidth":3,"domain":false,"title":"Weight value","titleFontSize":57,"titleAngle":0,"titleAlign":"left","titleBaseline":"alphabetic","titleX":-79,"titleY":1143}},
"y2":{"field":"lo"},
"color":{"field":"w","type":"quantitative","legend":null,"scale":{"type":"quantize","domain":[-0.284,0.452],"range":["#0000ff","#1212ff","#2323ff","#3535ff","#4646ff","#5858ff","#6969ff","#7b7bff","#8d8dff","#9e9eff","#b0b0ff","#c2c2ff","#d3d3ff","#e5e5ff","#f6f6ff","#fff6f6","#ffe5e5","#ffd3d3","#ffc2c2","#ffb0b0","#ff9e9e","#ff8d8d","#ff7b7b","#ff6969","#ff5858","#ff4646","#ff3535","#ff2323","#ff1212","#ff0000"]}}}},
{"encoding":{
"x":{"field":"x","type":"quantitative","scale":{"domain":[0,391.9],"range":[0,3919],"nice":false,"zero":false},"axis":null},
"y":{"field":"y","type":"quantitative","scale":{"domain":[0,232.5],"range":[0,2325],"nice":false,"zero":false},"axis":null}},
"layer":[
{"data":{"values":[{"x":21.6,"y":118.9,"x2":136,"y2":228.9},{"x":145.8,"y":118.4,"x2":153.7,"y2":228.7}]},"mark":{"type":"rect","fill":null,"stroke":"#000","strokeWidth":5},"encoding":{"x2":{"field":"x2"},"y2":{"field":"y2"}}},
{"data":{"values":[{"x":280,"y":72.6,"x2":204.4,"y2":102.8},{"x":280,"y":72.6,"x2":217.5,"y2":102.8},{"x":280,"y":72.6,"x2":231.8,"y2":102.8},{"x":280,"y":72.6,"x2":246.6,"y2":102.8},{"x":280,"y":72.6,"x2":261.8,"y2":102.8},{"x":280,"y":72.6,"x2":275.8,"y2":102.8},{"x":280,"y":72.6,"x2":318.8,"y2":102.8},{"x":280,"y":72.6,"x2":334,"y2":102.8},{"x":280,"y":72.6,"x2":348,"y2":102.8},
{"x":206,"y":125.9,"x2":217.5,"y2":102.8},{"x":206,"y":125.9,"x2":231.8,"y2":102.8},{"x":206,"y":125.9,"x2":246.6,"y2":102.8},{"x":206,"y":125.9,"x2":261.8,"y2":102.8},{"x":206,"y":125.9,"x2":275.8,"y2":102.8},
{"x":217.5,"y":125.9,"x2":217.5,"y2":102.8},{"x":217.5,"y":125.9,"x2":231.8,"y2":102.8},{"x":217.5,"y":125.9,"x2":246.6,"y2":102.8},{"x":217.5,"y":125.9,"x2":261.8,"y2":102.8},{"x":217.5,"y":125.9,"x2":275.8,"y2":102.8},{"x":217.5,"y":125.9,"x2":318.8,"y2":102.8},
{"x":232,"y":125.9,"x2":217.5,"y2":102.8},
{"x":246.9,"y":125.9,"x2":231.8,"y2":102.8},{"x":246.9,"y":125.9,"x2":275.8,"y2":102.8},
{"x":262.4,"y":125.9,"x2":246.6,"y2":102.8},{"x":262.4,"y":125.9,"x2":275.8,"y2":102.8},
{"x":276.6,"y":125.9,"x2":261.8,"y2":102.8},{"x":276.6,"y":125.9,"x2":275.8,"y2":102.8},{"x":276.6,"y":125.9,"x2":318.8,"y2":102.8},{"x":276.6,"y":125.9,"x2":334,"y2":102.8},{"x":276.6,"y":125.9,"x2":348,"y2":102.8},
{"x":319.1,"y":125.9,"x2":318.8,"y2":102.8},
{"x":333.3,"y":125.9,"x2":275.8,"y2":102.8},{"x":333.3,"y":125.9,"x2":318.8,"y2":102.8},{"x":333.3,"y":125.9,"x2":334,"y2":102.8},{"x":333.3,"y":125.9,"x2":348,"y2":102.8},
{"x":347.6,"y":125.9,"x2":275.8,"y2":102.8},{"x":347.6,"y":125.9,"x2":348,"y2":102.8}]},
"mark":{"type":"rule","color":"#3a3a3a","strokeWidth":3,"strokeDash":[3,6]},"encoding":{"x2":{"field":"x2"},"y2":{"field":"y2"}}},
{"data":{"values":[{"x":217.5,"y":125.9,"y2":153.6},{"x":232,"y":125.9,"y2":153.6},{"x":246.9,"y":125.9,"y2":153.6},{"x":262.4,"y":125.9,"y2":153.6},{"x":276.6,"y":125.9,"y2":153.6},{"x":319.1,"y":125.9,"y2":153.6},{"x":333.3,"y":125.9,"y2":153.6},{"x":347.6,"y":125.9,"y2":153.6}]},"mark":{"type":"rule","color":"#333333","strokeWidth":10},"encoding":{"y2":{"field":"y2"}}},
{"data":{"values":[{"x":280,"y":72.6}]},"mark":{"type":"point","filled":true,"opacity":1,"strokeWidth":0,"size":32000,"color":"#afa5cf"}},
{"data":{"values":[{"x":217.5,"y":102.8},{"x":231.8,"y":102.8},{"x":246.6,"y":102.8},{"x":261.8,"y":102.8},{"x":275.8,"y":102.8},{"x":318.8,"y":102.8},{"x":334,"y":102.8},{"x":348,"y":102.8}]},"mark":{"type":"point","filled":true,"opacity":1,"strokeWidth":0,"size":8836,"color":"#afa5cf"}},
{"data":{"values":[{"x":204.4,"y":102.8}]},"mark":{"type":"point","filled":true,"opacity":1,"strokeWidth":0,"size":8836,"color":"#00b294"}},
{"data":{"values":[{"x":206,"y":125.9}]},"mark":{"type":"point","filled":true,"opacity":1,"strokeWidth":0,"size":1520,"color":"#00b294"}},
{"data":{"values":[{"x":217.5,"y":125.9},{"x":232,"y":125.9},{"x":246.9,"y":125.9},{"x":262.4,"y":125.9},{"x":276.6,"y":125.9},{"x":319.1,"y":125.9},{"x":333.3,"y":125.9},{"x":347.6,"y":125.9}]},"mark":{"type":"point","filled":true,"opacity":1,"strokeWidth":0,"size":1520,"color":"#f55a0a"}},
{"data":{"values":[{"x":284.8,"y":102.6},{"x":290.1,"y":102.6},{"x":295.1,"y":102.6},{"x":300.5,"y":102.6},{"x":305.3,"y":102.6},{"x":309.9,"y":102.6},{"x":284.8,"y":125.6},{"x":290.1,"y":125.6},{"x":295.1,"y":125.6},{"x":300.5,"y":125.6},{"x":305.3,"y":125.6},{"x":309.9,"y":125.6}]},"mark":{"type":"point","filled":true,"opacity":1,"strokeWidth":0,"size":625,"color":"#2e2620"}},
{"data":{"values":[{"a":1,"o":1,"x":175.2,"y":35},{"a":1,"o":2,"x":202.5,"y":35},{"a":1,"o":3,"x":202.5,"y":86.4},{"a":1,"o":4,"x":219,"y":86.4},{"a":2,"o":1,"x":163.7,"y":175.9},{"a":2,"o":2,"x":187.5,"y":175.9},{"a":2,"o":3,"x":187.5,"y":115.5},{"a":2,"o":4,"x":202,"y":115.5}]},"mark":{"type":"line","color":"#2596ad","strokeWidth":15,"strokeJoin":"miter","strokeCap":"butt"},"encoding":{"detail":{"field":"a"},"order":{"field":"o"}}},
{"data":{"values":[{"x":222.2,"y":86.4},{"x":204.8,"y":115.5}]},"mark":{"type":"point","filled":true,"opacity":1,"strokeWidth":0,"size":6400,"color":"#2596ad","shape":"M-0.925,-1L0.925,0L-0.925,1Z"}},
{"data":{"values":[{"a":370.8,"b":387.8,"y":93}]},"mark":{"type":"rule","color":"#000","strokeWidth":3},"encoding":{"x":{"field":"a"},"x2":{"field":"b"}}},
{"data":{"values":[{"t":"(a)","x":32.8,"y":10.8},{"t":"(b)","x":16.2,"y":107.6}]},"mark":{"type":"text","fontSize":56,"font":"Liberation Sans","color":"#000","baseline":"alphabetic"},"encoding":{"text":{"field":"t"}}},
{"data":{"values":[{"t":"(c)","x":221.6,"y":76.9}]},"mark":{"type":"text","fontSize":80,"font":"Liberation Sans","color":"#000","baseline":"alphabetic"},"encoding":{"text":{"field":"t"}}},
{"data":{"values":[{"t":"x","x":216.8,"y":164.5},{"t":"x","x":231.8,"y":164.5},{"t":"x","x":319.8,"y":164.5},{"t":"x","x":349.3,"y":164.5}]},"mark":{"type":"text","fontSize":140,"font":"Liberation Sans","fontStyle":"italic","color":"#222","baseline":"alphabetic"},"encoding":{"text":{"field":"t"}}},
{"data":{"values":[{"t":"1","x":221.4,"y":167.1},{"t":"2","x":236.9,"y":167.1},{"t":"n","x":324.3,"y":167.1},{"t":"50","x":355.7,"y":167.1}]},"mark":{"type":"text","fontSize":63,"font":"Liberation Sans","color":"#222","baseline":"alphabetic"},"encoding":{"text":{"field":"t"}}},
{"data":{"values":[{"t":"f (z) = z","x":292.3,"y":71.6},{"t":"f (z) =","x":352.6,"y":94.5}]},"mark":{"type":"text","fontSize":70,"font":"Liberation Serif","fontStyle":"italic","color":"#000","align":"left","baseline":"alphabetic"},"encoding":{"text":{"field":"t"}}},
{"data":{"values":[{"t":"e","x":380.5,"y":99.6}]},"mark":{"type":"text","fontSize":70,"font":"Liberation Serif","fontStyle":"italic","color":"#000","baseline":"alphabetic"},"encoding":{"text":{"field":"t"}}},
{"data":{"values":[{"t":"1","x":379,"y":90.2},{"t":"1+","x":374.5,"y":99.6}]},"mark":{"type":"text","fontSize":70,"font":"Liberation Serif","color":"#000","baseline":"alphabetic"},"encoding":{"text":{"field":"t"}}},
{"data":{"values":[{"t":"−z","x":384.8,"y":97}]},"mark":{"type":"text","fontSize":40,"font":"Liberation Serif","fontStyle":"italic","color":"#000","baseline":"alphabetic"},"encoding":{"text":{"field":"t"}}}
]}
]}
